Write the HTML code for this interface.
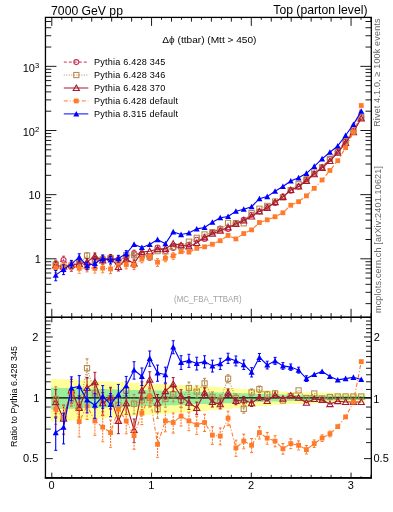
<!DOCTYPE html>
<html><head><meta charset="utf-8"><style>
html,body{margin:0;padding:0;background:#fff;}
body{width:393px;height:512px;position:relative;overflow:hidden;font-family:"Liberation Sans",sans-serif;color:#000;}
svg{position:absolute;left:0;top:0;will-change:transform;}
.t{position:absolute;white-space:nowrap;line-height:1;}
.t sup{font-size:0.72em;vertical-align:0;position:relative;top:-0.45em;}
.r{text-align:right;}
.c{text-align:center;}
.v{transform-origin:0 0;transform:rotate(-90deg);}
</style></head><body>
<svg width="393" height="512" viewBox="0 0 393 512" font-family="Liberation Sans, sans-serif">
<path d="M51.00,379.00 L59.63,379.00 L59.63,379.37 L67.47,379.37 L67.47,379.73 L75.30,379.73 L75.30,380.10 L83.14,380.10 L83.14,380.47 L90.97,380.47 L90.97,380.85 L98.81,380.85 L98.81,381.22 L106.64,381.22 L106.64,381.60 L114.47,381.60 L114.47,381.97 L122.31,381.97 L122.31,382.35 L130.14,382.35 L130.14,382.73 L137.98,382.73 L137.98,383.12 L145.81,383.12 L145.81,383.50 L153.65,383.50 L153.65,383.89 L161.48,383.89 L161.48,384.27 L169.32,384.27 L169.32,384.66 L177.15,384.66 L177.15,385.05 L184.98,385.05 L184.98,385.45 L192.82,385.45 L192.82,385.84 L200.65,385.84 L200.65,386.31 L208.49,386.31 L208.49,386.82 L216.32,386.82 L216.32,387.34 L224.16,387.34 L224.16,387.87 L231.99,387.87 L231.99,388.39 L239.82,388.39 L239.82,388.92 L247.66,388.92 L247.66,389.45 L255.49,389.45 L255.49,389.99 L263.33,389.99 L263.33,390.53 L271.16,390.53 L271.16,391.07 L279.00,391.07 L279.00,391.62 L286.83,391.62 L286.83,391.91 L294.66,391.91 L294.66,392.10 L302.50,392.10 L302.50,392.29 L310.33,392.29 L310.33,392.47 L318.17,392.47 L318.17,392.66 L326.00,392.66 L326.00,392.85 L333.84,392.85 L333.84,393.04 L341.67,393.04 L341.67,393.22 L349.51,393.22 L349.51,393.41 L357.34,393.41 L357.34,393.60 L365.17,393.60 L365.17,402.21 L357.34,402.21 L357.34,402.42 L349.51,402.42 L349.51,402.63 L341.67,402.63 L341.67,402.84 L333.84,402.84 L333.84,403.05 L326.00,403.05 L326.00,403.26 L318.17,403.26 L318.17,403.47 L310.33,403.47 L310.33,403.68 L302.50,403.68 L302.50,403.90 L294.66,403.90 L294.66,404.11 L286.83,404.11 L286.83,404.45 L279.00,404.45 L279.00,405.09 L271.16,405.09 L271.16,405.73 L263.33,405.73 L263.33,406.37 L255.49,406.37 L255.49,407.02 L247.66,407.02 L247.66,407.68 L239.82,407.68 L239.82,408.34 L231.99,408.34 L231.99,409.00 L224.16,409.00 L224.16,409.67 L216.32,409.67 L216.32,410.35 L208.49,410.35 L208.49,411.03 L200.65,411.03 L200.65,411.65 L192.82,411.65 L192.82,412.18 L184.98,412.18 L184.98,412.72 L177.15,412.72 L177.15,413.26 L169.32,413.26 L169.32,413.80 L161.48,413.80 L161.48,414.35 L153.65,414.35 L153.65,414.89 L145.81,414.89 L145.81,415.45 L137.98,415.45 L137.98,416.00 L130.14,416.00 L130.14,416.56 L122.31,416.56 L122.31,417.12 L114.47,417.12 L114.47,417.69 L106.64,417.69 L106.64,418.26 L98.81,418.26 L98.81,418.83 L90.97,418.83 L90.97,419.41 L83.14,419.41 L83.14,419.99 L75.30,419.99 L75.30,420.58 L67.47,420.58 L67.47,421.17 L59.63,421.17 L59.63,421.76 L51.00,421.76 Z" fill="#ffff99"/>
<path d="M51.00,387.70 L59.63,387.70 L59.63,387.92 L67.47,387.92 L67.47,388.14 L75.30,388.14 L75.30,388.35 L83.14,388.35 L83.14,388.57 L90.97,388.57 L90.97,388.79 L98.81,388.79 L98.81,389.01 L106.64,389.01 L106.64,389.23 L114.47,389.23 L114.47,389.45 L122.31,389.45 L122.31,389.67 L130.14,389.67 L130.14,389.90 L137.98,389.90 L137.98,390.12 L145.81,390.12 L145.81,390.34 L153.65,390.34 L153.65,390.57 L161.48,390.57 L161.48,390.79 L169.32,390.79 L169.32,391.01 L177.15,391.01 L177.15,391.24 L184.98,391.24 L184.98,391.47 L192.82,391.47 L192.82,391.69 L200.65,391.69 L200.65,391.94 L208.49,391.94 L208.49,392.20 L216.32,392.20 L216.32,392.47 L224.16,392.47 L224.16,392.73 L231.99,392.73 L231.99,393.00 L239.82,393.00 L239.82,393.27 L247.66,393.27 L247.66,393.54 L255.49,393.54 L255.49,393.80 L263.33,393.80 L263.33,394.07 L271.16,394.07 L271.16,394.34 L279.00,394.34 L279.00,394.62 L286.83,394.62 L286.83,394.77 L294.66,394.77 L294.66,394.88 L302.50,394.88 L302.50,394.98 L310.33,394.98 L310.33,395.09 L318.17,395.09 L318.17,395.19 L326.00,395.19 L326.00,395.30 L333.84,395.30 L333.84,395.40 L341.67,395.40 L341.67,395.51 L349.51,395.51 L349.51,395.61 L357.34,395.61 L357.34,395.72 L365.17,395.72 L365.17,399.93 L357.34,399.93 L357.34,400.04 L349.51,400.04 L349.51,400.15 L341.67,400.15 L341.67,400.27 L333.84,400.27 L333.84,400.38 L326.00,400.38 L326.00,400.49 L318.17,400.49 L318.17,400.60 L310.33,400.60 L310.33,400.71 L302.50,400.71 L302.50,400.83 L294.66,400.83 L294.66,400.94 L286.83,400.94 L286.83,401.10 L279.00,401.10 L279.00,401.40 L271.16,401.40 L271.16,401.69 L263.33,401.69 L263.33,401.99 L255.49,401.99 L255.49,402.28 L247.66,402.28 L247.66,402.58 L239.82,402.58 L239.82,402.88 L231.99,402.88 L231.99,403.18 L224.16,403.18 L224.16,403.48 L216.32,403.48 L216.32,403.78 L208.49,403.78 L208.49,404.08 L200.65,404.08 L200.65,404.37 L192.82,404.37 L192.82,404.63 L184.98,404.63 L184.98,404.89 L177.15,404.89 L177.15,405.16 L169.32,405.16 L169.32,405.42 L161.48,405.42 L161.48,405.69 L153.65,405.69 L153.65,405.95 L145.81,405.95 L145.81,406.22 L137.98,406.22 L137.98,406.49 L130.14,406.49 L130.14,406.76 L122.31,406.76 L122.31,407.03 L114.47,407.03 L114.47,407.30 L106.64,407.30 L106.64,407.57 L98.81,407.57 L98.81,407.84 L90.97,407.84 L90.97,408.11 L83.14,408.11 L83.14,408.39 L75.30,408.39 L75.30,408.66 L67.47,408.66 L67.47,408.94 L59.63,408.94 L59.63,409.21 L51.00,409.21 Z" fill="#99ee99"/>
<line x1="45.45" y1="397.8" x2="371.3" y2="397.8" stroke="#000" stroke-width="1.3"/>
<path d="M55.72,399.20 L63.55,418.90 L71.39,393.00 L79.22,407.40 L87.05,368.10 L94.89,393.40 L102.72,400.00 L110.56,398.00 L118.39,405.00 L126.23,390.40 L134.06,403.70 L141.89,400.00 L149.73,398.00 L157.56,409.10 L165.40,399.00 L173.23,394.40 L181.07,400.00 L188.90,388.00 L196.74,391.60 L204.57,383.40 L212.40,397.00 L220.24,400.00 L228.07,378.70 L235.91,398.00 L243.74,408.90 L251.58,392.40 L259.41,389.20 L267.24,394.40 L275.08,393.40 L282.91,400.50 L290.75,396.00 L298.58,390.40 L306.42,398.00 L314.25,393.50 L322.08,398.50 L329.92,397.00 L337.75,396.50 L345.59,396.50 L353.42,396.50 L361.26,396.50" fill="none" stroke="#b48a4c" stroke-width="1.1" stroke-dasharray="1,1.5"/>
<line x1="55.72" y1="386.84" x2="55.72" y2="413.59" stroke="#b48a4c" stroke-width="1.1" stroke-dasharray="2,1"/><line x1="54.22" y1="386.84" x2="57.22" y2="386.84" stroke="#b48a4c" stroke-width="1.0"/><line x1="54.22" y1="413.59" x2="57.22" y2="413.59" stroke="#b48a4c" stroke-width="1.0"/>
<rect x="53.12" y="396.60" width="5.20" height="5.20" fill="none" stroke="#b48a4c" stroke-width="1.05"/>
<line x1="63.55" y1="405.58" x2="63.55" y2="434.62" stroke="#b48a4c" stroke-width="1.1" stroke-dasharray="2,1"/><line x1="62.05" y1="405.58" x2="65.05" y2="405.58" stroke="#b48a4c" stroke-width="1.0"/><line x1="62.05" y1="434.62" x2="65.05" y2="434.62" stroke="#b48a4c" stroke-width="1.0"/>
<rect x="60.95" y="416.30" width="5.20" height="5.20" fill="none" stroke="#b48a4c" stroke-width="1.05"/>
<line x1="71.39" y1="381.73" x2="71.39" y2="405.93" stroke="#b48a4c" stroke-width="1.1" stroke-dasharray="2,1"/><line x1="69.89" y1="381.73" x2="72.89" y2="381.73" stroke="#b48a4c" stroke-width="1.0"/><line x1="69.89" y1="405.93" x2="72.89" y2="405.93" stroke="#b48a4c" stroke-width="1.0"/>
<rect x="68.79" y="390.40" width="5.20" height="5.20" fill="none" stroke="#b48a4c" stroke-width="1.05"/>
<line x1="79.22" y1="395.60" x2="79.22" y2="421.04" stroke="#b48a4c" stroke-width="1.1" stroke-dasharray="2,1"/><line x1="77.72" y1="395.60" x2="80.72" y2="395.60" stroke="#b48a4c" stroke-width="1.0"/><line x1="77.72" y1="421.04" x2="80.72" y2="421.04" stroke="#b48a4c" stroke-width="1.0"/>
<rect x="76.62" y="404.80" width="5.20" height="5.20" fill="none" stroke="#b48a4c" stroke-width="1.05"/>
<line x1="87.05" y1="358.84" x2="87.05" y2="378.46" stroke="#b48a4c" stroke-width="1.1" stroke-dasharray="2,1"/><line x1="85.55" y1="358.84" x2="88.55" y2="358.84" stroke="#b48a4c" stroke-width="1.0"/><line x1="85.55" y1="378.46" x2="88.55" y2="378.46" stroke="#b48a4c" stroke-width="1.0"/>
<rect x="84.45" y="365.50" width="5.20" height="5.20" fill="none" stroke="#b48a4c" stroke-width="1.05"/>
<line x1="94.89" y1="383.12" x2="94.89" y2="405.05" stroke="#b48a4c" stroke-width="1.1" stroke-dasharray="2,1"/><line x1="93.39" y1="383.12" x2="96.39" y2="383.12" stroke="#b48a4c" stroke-width="1.0"/><line x1="93.39" y1="405.05" x2="96.39" y2="405.05" stroke="#b48a4c" stroke-width="1.0"/>
<rect x="92.29" y="390.80" width="5.20" height="5.20" fill="none" stroke="#b48a4c" stroke-width="1.05"/>
<line x1="102.72" y1="389.69" x2="102.72" y2="411.68" stroke="#b48a4c" stroke-width="1.1" stroke-dasharray="2,1"/><line x1="101.22" y1="389.69" x2="104.22" y2="389.69" stroke="#b48a4c" stroke-width="1.0"/><line x1="101.22" y1="411.68" x2="104.22" y2="411.68" stroke="#b48a4c" stroke-width="1.0"/>
<rect x="100.12" y="397.40" width="5.20" height="5.20" fill="none" stroke="#b48a4c" stroke-width="1.05"/>
<line x1="110.56" y1="388.14" x2="110.56" y2="409.11" stroke="#b48a4c" stroke-width="1.1" stroke-dasharray="2,1"/><line x1="109.06" y1="388.14" x2="112.06" y2="388.14" stroke="#b48a4c" stroke-width="1.0"/><line x1="109.06" y1="409.11" x2="112.06" y2="409.11" stroke="#b48a4c" stroke-width="1.0"/>
<rect x="107.96" y="395.40" width="5.20" height="5.20" fill="none" stroke="#b48a4c" stroke-width="1.05"/>
<line x1="118.39" y1="395.10" x2="118.39" y2="416.15" stroke="#b48a4c" stroke-width="1.1" stroke-dasharray="2,1"/><line x1="116.89" y1="395.10" x2="119.89" y2="395.10" stroke="#b48a4c" stroke-width="1.0"/><line x1="116.89" y1="416.15" x2="119.89" y2="416.15" stroke="#b48a4c" stroke-width="1.0"/>
<rect x="115.79" y="402.40" width="5.20" height="5.20" fill="none" stroke="#b48a4c" stroke-width="1.05"/>
<line x1="126.23" y1="381.57" x2="126.23" y2="400.22" stroke="#b48a4c" stroke-width="1.1" stroke-dasharray="2,1"/><line x1="124.73" y1="381.57" x2="127.73" y2="381.57" stroke="#b48a4c" stroke-width="1.0"/><line x1="124.73" y1="400.22" x2="127.73" y2="400.22" stroke="#b48a4c" stroke-width="1.0"/>
<rect x="123.63" y="387.80" width="5.20" height="5.20" fill="none" stroke="#b48a4c" stroke-width="1.05"/>
<line x1="134.06" y1="394.55" x2="134.06" y2="413.92" stroke="#b48a4c" stroke-width="1.1" stroke-dasharray="2,1"/><line x1="132.56" y1="394.55" x2="135.56" y2="394.55" stroke="#b48a4c" stroke-width="1.0"/><line x1="132.56" y1="413.92" x2="135.56" y2="413.92" stroke="#b48a4c" stroke-width="1.0"/>
<rect x="131.46" y="401.10" width="5.20" height="5.20" fill="none" stroke="#b48a4c" stroke-width="1.05"/>
<line x1="141.89" y1="391.36" x2="141.89" y2="409.59" stroke="#b48a4c" stroke-width="1.1" stroke-dasharray="2,1"/><line x1="140.39" y1="391.36" x2="143.39" y2="391.36" stroke="#b48a4c" stroke-width="1.0"/><line x1="140.39" y1="409.59" x2="143.39" y2="409.59" stroke="#b48a4c" stroke-width="1.0"/>
<rect x="139.29" y="397.40" width="5.20" height="5.20" fill="none" stroke="#b48a4c" stroke-width="1.05"/>
<line x1="149.73" y1="389.77" x2="149.73" y2="407.08" stroke="#b48a4c" stroke-width="1.1" stroke-dasharray="2,1"/><line x1="148.23" y1="389.77" x2="151.23" y2="389.77" stroke="#b48a4c" stroke-width="1.0"/><line x1="148.23" y1="407.08" x2="151.23" y2="407.08" stroke="#b48a4c" stroke-width="1.0"/>
<rect x="147.13" y="395.40" width="5.20" height="5.20" fill="none" stroke="#b48a4c" stroke-width="1.05"/>
<line x1="157.56" y1="400.80" x2="157.56" y2="418.27" stroke="#b48a4c" stroke-width="1.1" stroke-dasharray="2,1"/><line x1="156.06" y1="400.80" x2="159.06" y2="400.80" stroke="#b48a4c" stroke-width="1.0"/><line x1="156.06" y1="418.27" x2="159.06" y2="418.27" stroke="#b48a4c" stroke-width="1.0"/>
<rect x="154.96" y="406.50" width="5.20" height="5.20" fill="none" stroke="#b48a4c" stroke-width="1.05"/>
<line x1="165.40" y1="391.55" x2="165.40" y2="407.14" stroke="#b48a4c" stroke-width="1.1" stroke-dasharray="2,1"/><line x1="163.90" y1="391.55" x2="166.90" y2="391.55" stroke="#b48a4c" stroke-width="1.0"/><line x1="163.90" y1="407.14" x2="166.90" y2="407.14" stroke="#b48a4c" stroke-width="1.0"/>
<rect x="162.80" y="396.40" width="5.20" height="5.20" fill="none" stroke="#b48a4c" stroke-width="1.05"/>
<line x1="173.23" y1="387.53" x2="173.23" y2="401.86" stroke="#b48a4c" stroke-width="1.1" stroke-dasharray="2,1"/><line x1="171.73" y1="387.53" x2="174.73" y2="387.53" stroke="#b48a4c" stroke-width="1.0"/><line x1="171.73" y1="401.86" x2="174.73" y2="401.86" stroke="#b48a4c" stroke-width="1.0"/>
<rect x="170.63" y="391.80" width="5.20" height="5.20" fill="none" stroke="#b48a4c" stroke-width="1.05"/>
<line x1="181.07" y1="393.30" x2="181.07" y2="407.25" stroke="#b48a4c" stroke-width="1.1" stroke-dasharray="2,1"/><line x1="179.57" y1="393.30" x2="182.57" y2="393.30" stroke="#b48a4c" stroke-width="1.0"/><line x1="179.57" y1="407.25" x2="182.57" y2="407.25" stroke="#b48a4c" stroke-width="1.0"/>
<rect x="178.47" y="397.40" width="5.20" height="5.20" fill="none" stroke="#b48a4c" stroke-width="1.05"/>
<line x1="188.90" y1="382.09" x2="188.90" y2="394.34" stroke="#b48a4c" stroke-width="1.1" stroke-dasharray="2,1"/><line x1="187.40" y1="382.09" x2="190.40" y2="382.09" stroke="#b48a4c" stroke-width="1.0"/><line x1="187.40" y1="394.34" x2="190.40" y2="394.34" stroke="#b48a4c" stroke-width="1.0"/>
<rect x="186.30" y="385.40" width="5.20" height="5.20" fill="none" stroke="#b48a4c" stroke-width="1.05"/>
<line x1="196.74" y1="385.93" x2="196.74" y2="397.66" stroke="#b48a4c" stroke-width="1.1" stroke-dasharray="2,1"/><line x1="195.24" y1="385.93" x2="198.24" y2="385.93" stroke="#b48a4c" stroke-width="1.0"/><line x1="195.24" y1="397.66" x2="198.24" y2="397.66" stroke="#b48a4c" stroke-width="1.0"/>
<rect x="194.14" y="389.00" width="5.20" height="5.20" fill="none" stroke="#b48a4c" stroke-width="1.05"/>
<line x1="204.57" y1="378.33" x2="204.57" y2="388.78" stroke="#b48a4c" stroke-width="1.1" stroke-dasharray="2,1"/><line x1="203.07" y1="378.33" x2="206.07" y2="378.33" stroke="#b48a4c" stroke-width="1.0"/><line x1="203.07" y1="388.78" x2="206.07" y2="388.78" stroke="#b48a4c" stroke-width="1.0"/>
<rect x="201.97" y="380.80" width="5.20" height="5.20" fill="none" stroke="#b48a4c" stroke-width="1.05"/>
<line x1="212.40" y1="391.92" x2="212.40" y2="402.40" stroke="#b48a4c" stroke-width="1.1" stroke-dasharray="2,1"/><line x1="210.90" y1="391.92" x2="213.90" y2="391.92" stroke="#b48a4c" stroke-width="1.0"/><line x1="210.90" y1="402.40" x2="213.90" y2="402.40" stroke="#b48a4c" stroke-width="1.0"/>
<rect x="209.80" y="394.40" width="5.20" height="5.20" fill="none" stroke="#b48a4c" stroke-width="1.05"/>
<line x1="220.24" y1="395.20" x2="220.24" y2="405.07" stroke="#b48a4c" stroke-width="1.1" stroke-dasharray="2,1"/><line x1="218.74" y1="395.20" x2="221.74" y2="395.20" stroke="#b48a4c" stroke-width="1.0"/><line x1="218.74" y1="405.07" x2="221.74" y2="405.07" stroke="#b48a4c" stroke-width="1.0"/>
<rect x="217.64" y="397.40" width="5.20" height="5.20" fill="none" stroke="#b48a4c" stroke-width="1.05"/>
<line x1="228.07" y1="374.76" x2="228.07" y2="382.82" stroke="#b48a4c" stroke-width="1.1" stroke-dasharray="2,1"/><line x1="226.57" y1="374.76" x2="229.57" y2="374.76" stroke="#b48a4c" stroke-width="1.0"/><line x1="226.57" y1="382.82" x2="229.57" y2="382.82" stroke="#b48a4c" stroke-width="1.0"/>
<rect x="225.47" y="376.10" width="5.20" height="5.20" fill="none" stroke="#b48a4c" stroke-width="1.05"/>
<line x1="235.91" y1="393.88" x2="235.91" y2="402.32" stroke="#b48a4c" stroke-width="1.1" stroke-dasharray="2,1"/><line x1="234.41" y1="393.88" x2="237.41" y2="393.88" stroke="#b48a4c" stroke-width="1.0"/><line x1="234.41" y1="402.32" x2="237.41" y2="402.32" stroke="#b48a4c" stroke-width="1.0"/>
<rect x="233.31" y="395.40" width="5.20" height="5.20" fill="none" stroke="#b48a4c" stroke-width="1.05"/>
<line x1="243.74" y1="404.80" x2="243.74" y2="413.20" stroke="#b48a4c" stroke-width="1.1" stroke-dasharray="2,1"/><line x1="242.24" y1="404.80" x2="245.24" y2="404.80" stroke="#b48a4c" stroke-width="1.0"/><line x1="242.24" y1="413.20" x2="245.24" y2="413.20" stroke="#b48a4c" stroke-width="1.0"/>
<rect x="241.14" y="406.30" width="5.20" height="5.20" fill="none" stroke="#b48a4c" stroke-width="1.05"/>
<line x1="251.58" y1="388.91" x2="251.58" y2="396.03" stroke="#b48a4c" stroke-width="1.1" stroke-dasharray="2,1"/><line x1="250.08" y1="388.91" x2="253.08" y2="388.91" stroke="#b48a4c" stroke-width="1.0"/><line x1="250.08" y1="396.03" x2="253.08" y2="396.03" stroke="#b48a4c" stroke-width="1.0"/>
<rect x="248.98" y="389.80" width="5.20" height="5.20" fill="none" stroke="#b48a4c" stroke-width="1.05"/>
<line x1="259.41" y1="386.02" x2="259.41" y2="392.50" stroke="#b48a4c" stroke-width="1.1" stroke-dasharray="2,1"/><line x1="257.91" y1="386.02" x2="260.91" y2="386.02" stroke="#b48a4c" stroke-width="1.0"/><line x1="257.91" y1="392.50" x2="260.91" y2="392.50" stroke="#b48a4c" stroke-width="1.0"/>
<rect x="256.81" y="386.60" width="5.20" height="5.20" fill="none" stroke="#b48a4c" stroke-width="1.05"/>
<line x1="267.24" y1="391.37" x2="267.24" y2="397.53" stroke="#b48a4c" stroke-width="1.1" stroke-dasharray="2,1"/><line x1="265.74" y1="391.37" x2="268.74" y2="391.37" stroke="#b48a4c" stroke-width="1.0"/><line x1="265.74" y1="397.53" x2="268.74" y2="397.53" stroke="#b48a4c" stroke-width="1.0"/>
<rect x="264.64" y="391.80" width="5.20" height="5.20" fill="none" stroke="#b48a4c" stroke-width="1.05"/>
<line x1="275.08" y1="390.63" x2="275.08" y2="396.26" stroke="#b48a4c" stroke-width="1.1" stroke-dasharray="2,1"/><line x1="273.58" y1="390.63" x2="276.58" y2="390.63" stroke="#b48a4c" stroke-width="1.0"/><line x1="273.58" y1="396.26" x2="276.58" y2="396.26" stroke="#b48a4c" stroke-width="1.0"/>
<rect x="272.48" y="390.80" width="5.20" height="5.20" fill="none" stroke="#b48a4c" stroke-width="1.05"/>
<rect x="280.31" y="397.90" width="5.20" height="5.20" fill="none" stroke="#b48a4c" stroke-width="1.05"/>
<rect x="288.15" y="393.40" width="5.20" height="5.20" fill="none" stroke="#b48a4c" stroke-width="1.05"/>
<rect x="295.98" y="387.80" width="5.20" height="5.20" fill="none" stroke="#b48a4c" stroke-width="1.05"/>
<rect x="303.82" y="395.40" width="5.20" height="5.20" fill="none" stroke="#b48a4c" stroke-width="1.05"/>
<rect x="311.65" y="390.90" width="5.20" height="5.20" fill="none" stroke="#b48a4c" stroke-width="1.05"/>
<rect x="319.48" y="395.90" width="5.20" height="5.20" fill="none" stroke="#b48a4c" stroke-width="1.05"/>
<rect x="327.32" y="394.40" width="5.20" height="5.20" fill="none" stroke="#b48a4c" stroke-width="1.05"/>
<rect x="335.15" y="393.90" width="5.20" height="5.20" fill="none" stroke="#b48a4c" stroke-width="1.05"/>
<rect x="342.99" y="393.90" width="5.20" height="5.20" fill="none" stroke="#b48a4c" stroke-width="1.05"/>
<rect x="350.82" y="393.90" width="5.20" height="5.20" fill="none" stroke="#b48a4c" stroke-width="1.05"/>
<rect x="358.66" y="393.90" width="5.20" height="5.20" fill="none" stroke="#b48a4c" stroke-width="1.05"/>
<path d="M55.72,402.10 L63.55,418.50 L71.39,390.40 L79.22,408.00 L87.05,388.00 L94.89,382.20 L102.72,403.30 L110.56,397.40 L118.39,420.90 L126.23,403.30 L134.06,430.00 L141.89,390.40 L149.73,379.60 L157.56,402.80 L165.40,391.10 L173.23,384.10 L181.07,396.20 L188.90,402.80 L196.74,408.00 L204.57,392.70 L212.40,402.00 L220.24,404.30 L228.07,392.60 L235.91,401.00 L243.74,399.80 L251.58,403.20 L259.41,397.50 L267.24,401.00 L275.08,395.20 L282.91,398.60 L290.75,395.60 L298.58,397.70 L306.42,402.80 L314.25,399.00 L322.08,399.90 L329.92,404.10 L337.75,401.10 L345.59,402.00 L353.42,402.00 L361.26,402.00" fill="none" stroke="#a81830" stroke-width="1.1"/>
<line x1="55.72" y1="389.55" x2="55.72" y2="416.75" stroke="#a81830" stroke-width="1.1"/><line x1="54.22" y1="389.55" x2="57.22" y2="389.55" stroke="#a81830" stroke-width="1.0"/><line x1="54.22" y1="416.75" x2="57.22" y2="416.75" stroke="#a81830" stroke-width="1.0"/>
<path d="M55.72,399.10 L58.82,404.60 L52.62,404.60 Z" fill="none" stroke="#a81830" stroke-width="1.1"/>
<line x1="63.55" y1="405.15" x2="63.55" y2="434.25" stroke="#a81830" stroke-width="1.1"/><line x1="62.05" y1="405.15" x2="65.05" y2="405.15" stroke="#a81830" stroke-width="1.0"/><line x1="62.05" y1="434.25" x2="65.05" y2="434.25" stroke="#a81830" stroke-width="1.0"/>
<path d="M63.55,415.50 L66.65,421.00 L60.45,421.00 Z" fill="none" stroke="#a81830" stroke-width="1.1"/>
<line x1="71.39" y1="379.20" x2="71.39" y2="403.24" stroke="#a81830" stroke-width="1.1"/><line x1="69.89" y1="379.20" x2="72.89" y2="379.20" stroke="#a81830" stroke-width="1.0"/><line x1="69.89" y1="403.24" x2="72.89" y2="403.24" stroke="#a81830" stroke-width="1.0"/>
<path d="M71.39,387.40 L74.49,392.90 L68.29,392.90 Z" fill="none" stroke="#a81830" stroke-width="1.1"/>
<line x1="79.22" y1="396.02" x2="79.22" y2="421.88" stroke="#a81830" stroke-width="1.1"/><line x1="77.72" y1="396.02" x2="80.72" y2="396.02" stroke="#a81830" stroke-width="1.0"/><line x1="77.72" y1="421.88" x2="80.72" y2="421.88" stroke="#a81830" stroke-width="1.0"/>
<path d="M79.22,405.00 L82.32,410.50 L76.12,410.50 Z" fill="none" stroke="#a81830" stroke-width="1.1"/>
<line x1="87.05" y1="377.52" x2="87.05" y2="399.90" stroke="#a81830" stroke-width="1.1"/><line x1="85.55" y1="377.52" x2="88.55" y2="377.52" stroke="#a81830" stroke-width="1.0"/><line x1="85.55" y1="399.90" x2="88.55" y2="399.90" stroke="#a81830" stroke-width="1.0"/>
<path d="M87.05,385.00 L90.15,390.50 L83.95,390.50 Z" fill="none" stroke="#a81830" stroke-width="1.1"/>
<line x1="94.89" y1="372.32" x2="94.89" y2="393.33" stroke="#a81830" stroke-width="1.1"/><line x1="93.39" y1="372.32" x2="96.39" y2="372.32" stroke="#a81830" stroke-width="1.0"/><line x1="93.39" y1="393.33" x2="96.39" y2="393.33" stroke="#a81830" stroke-width="1.0"/>
<path d="M94.89,379.20 L97.99,384.70 L91.79,384.70 Z" fill="none" stroke="#a81830" stroke-width="1.1"/>
<line x1="102.72" y1="392.55" x2="102.72" y2="415.56" stroke="#a81830" stroke-width="1.1"/><line x1="101.22" y1="392.55" x2="104.22" y2="392.55" stroke="#a81830" stroke-width="1.0"/><line x1="101.22" y1="415.56" x2="104.22" y2="415.56" stroke="#a81830" stroke-width="1.0"/>
<path d="M102.72,400.30 L105.82,405.80 L99.62,405.80 Z" fill="none" stroke="#a81830" stroke-width="1.1"/>
<line x1="110.56" y1="387.28" x2="110.56" y2="408.84" stroke="#a81830" stroke-width="1.1"/><line x1="109.06" y1="387.28" x2="112.06" y2="387.28" stroke="#a81830" stroke-width="1.0"/><line x1="109.06" y1="408.84" x2="112.06" y2="408.84" stroke="#a81830" stroke-width="1.0"/>
<path d="M110.56,394.40 L113.66,399.90 L107.46,399.90 Z" fill="none" stroke="#a81830" stroke-width="1.1"/>
<line x1="118.39" y1="409.76" x2="118.39" y2="433.66" stroke="#a81830" stroke-width="1.1"/><line x1="116.89" y1="409.76" x2="119.89" y2="409.76" stroke="#a81830" stroke-width="1.0"/><line x1="116.89" y1="433.66" x2="119.89" y2="433.66" stroke="#a81830" stroke-width="1.0"/>
<path d="M118.39,417.90 L121.49,423.40 L115.29,423.40 Z" fill="none" stroke="#a81830" stroke-width="1.1"/>
<line x1="126.23" y1="393.47" x2="126.23" y2="414.37" stroke="#a81830" stroke-width="1.1"/><line x1="124.73" y1="393.47" x2="127.73" y2="393.47" stroke="#a81830" stroke-width="1.0"/><line x1="124.73" y1="414.37" x2="127.73" y2="414.37" stroke="#a81830" stroke-width="1.0"/>
<path d="M126.23,400.30 L129.33,405.80 L123.13,405.80 Z" fill="none" stroke="#a81830" stroke-width="1.1"/>
<line x1="134.06" y1="419.01" x2="134.06" y2="442.57" stroke="#a81830" stroke-width="1.1"/><line x1="132.56" y1="419.01" x2="135.56" y2="419.01" stroke="#a81830" stroke-width="1.0"/><line x1="132.56" y1="442.57" x2="135.56" y2="442.57" stroke="#a81830" stroke-width="1.0"/>
<path d="M134.06,427.00 L137.16,432.50 L130.96,432.50 Z" fill="none" stroke="#a81830" stroke-width="1.1"/>
<line x1="141.89" y1="381.80" x2="141.89" y2="399.93" stroke="#a81830" stroke-width="1.1"/><line x1="140.39" y1="381.80" x2="143.39" y2="381.80" stroke="#a81830" stroke-width="1.0"/><line x1="140.39" y1="399.93" x2="143.39" y2="399.93" stroke="#a81830" stroke-width="1.0"/>
<path d="M141.89,387.40 L144.99,392.90 L138.79,392.90 Z" fill="none" stroke="#a81830" stroke-width="1.1"/>
<line x1="149.73" y1="371.76" x2="149.73" y2="388.21" stroke="#a81830" stroke-width="1.1"/><line x1="148.23" y1="371.76" x2="151.23" y2="371.76" stroke="#a81830" stroke-width="1.0"/><line x1="148.23" y1="388.21" x2="151.23" y2="388.21" stroke="#a81830" stroke-width="1.0"/>
<path d="M149.73,376.60 L152.83,382.10 L146.63,382.10 Z" fill="none" stroke="#a81830" stroke-width="1.1"/>
<line x1="157.56" y1="394.47" x2="157.56" y2="412.00" stroke="#a81830" stroke-width="1.1"/><line x1="156.06" y1="394.47" x2="159.06" y2="394.47" stroke="#a81830" stroke-width="1.0"/><line x1="156.06" y1="412.00" x2="159.06" y2="412.00" stroke="#a81830" stroke-width="1.0"/>
<path d="M157.56,399.80 L160.66,405.30 L154.46,405.30 Z" fill="none" stroke="#a81830" stroke-width="1.1"/>
<line x1="165.40" y1="383.81" x2="165.40" y2="399.05" stroke="#a81830" stroke-width="1.1"/><line x1="163.90" y1="383.81" x2="166.90" y2="383.81" stroke="#a81830" stroke-width="1.0"/><line x1="163.90" y1="399.05" x2="166.90" y2="399.05" stroke="#a81830" stroke-width="1.0"/>
<path d="M165.40,388.10 L168.50,393.60 L162.30,393.60 Z" fill="none" stroke="#a81830" stroke-width="1.1"/>
<line x1="173.23" y1="377.57" x2="173.23" y2="391.16" stroke="#a81830" stroke-width="1.1"/><line x1="171.73" y1="377.57" x2="174.73" y2="377.57" stroke="#a81830" stroke-width="1.0"/><line x1="171.73" y1="391.16" x2="174.73" y2="391.16" stroke="#a81830" stroke-width="1.0"/>
<path d="M173.23,381.10 L176.33,386.60 L170.13,386.60 Z" fill="none" stroke="#a81830" stroke-width="1.1"/>
<line x1="181.07" y1="389.72" x2="181.07" y2="403.20" stroke="#a81830" stroke-width="1.1"/><line x1="179.57" y1="389.72" x2="182.57" y2="389.72" stroke="#a81830" stroke-width="1.0"/><line x1="179.57" y1="403.20" x2="182.57" y2="403.20" stroke="#a81830" stroke-width="1.0"/>
<path d="M181.07,393.20 L184.17,398.70 L177.97,398.70 Z" fill="none" stroke="#a81830" stroke-width="1.1"/>
<line x1="188.90" y1="396.58" x2="188.90" y2="409.49" stroke="#a81830" stroke-width="1.1"/><line x1="187.40" y1="396.58" x2="190.40" y2="396.58" stroke="#a81830" stroke-width="1.0"/><line x1="187.40" y1="409.49" x2="190.40" y2="409.49" stroke="#a81830" stroke-width="1.0"/>
<path d="M188.90,399.80 L192.00,405.30 L185.80,405.30 Z" fill="none" stroke="#a81830" stroke-width="1.1"/>
<line x1="196.74" y1="402.10" x2="196.74" y2="414.33" stroke="#a81830" stroke-width="1.1"/><line x1="195.24" y1="402.10" x2="198.24" y2="402.10" stroke="#a81830" stroke-width="1.0"/><line x1="195.24" y1="414.33" x2="198.24" y2="414.33" stroke="#a81830" stroke-width="1.0"/>
<path d="M196.74,405.00 L199.84,410.50 L193.64,410.50 Z" fill="none" stroke="#a81830" stroke-width="1.1"/>
<line x1="204.57" y1="387.74" x2="204.57" y2="397.96" stroke="#a81830" stroke-width="1.1"/><line x1="203.07" y1="387.74" x2="206.07" y2="387.74" stroke="#a81830" stroke-width="1.0"/><line x1="203.07" y1="397.96" x2="206.07" y2="397.96" stroke="#a81830" stroke-width="1.0"/>
<path d="M204.57,389.70 L207.67,395.20 L201.47,395.20 Z" fill="none" stroke="#a81830" stroke-width="1.1"/>
<line x1="212.40" y1="397.25" x2="212.40" y2="407.02" stroke="#a81830" stroke-width="1.1"/><line x1="210.90" y1="397.25" x2="213.90" y2="397.25" stroke="#a81830" stroke-width="1.0"/><line x1="210.90" y1="407.02" x2="213.90" y2="407.02" stroke="#a81830" stroke-width="1.0"/>
<path d="M212.40,399.00 L215.50,404.50 L209.30,404.50 Z" fill="none" stroke="#a81830" stroke-width="1.1"/>
<line x1="220.24" y1="399.95" x2="220.24" y2="408.87" stroke="#a81830" stroke-width="1.1"/><line x1="218.74" y1="399.95" x2="221.74" y2="399.95" stroke="#a81830" stroke-width="1.0"/><line x1="218.74" y1="408.87" x2="221.74" y2="408.87" stroke="#a81830" stroke-width="1.0"/>
<path d="M220.24,401.30 L223.34,406.80 L217.14,406.80 Z" fill="none" stroke="#a81830" stroke-width="1.1"/>
<line x1="228.07" y1="388.94" x2="228.07" y2="396.42" stroke="#a81830" stroke-width="1.1"/><line x1="226.57" y1="388.94" x2="229.57" y2="388.94" stroke="#a81830" stroke-width="1.0"/><line x1="226.57" y1="396.42" x2="229.57" y2="396.42" stroke="#a81830" stroke-width="1.0"/>
<path d="M228.07,389.60 L231.17,395.10 L224.97,395.10 Z" fill="none" stroke="#a81830" stroke-width="1.1"/>
<line x1="235.91" y1="397.40" x2="235.91" y2="404.75" stroke="#a81830" stroke-width="1.1"/><line x1="234.41" y1="397.40" x2="237.41" y2="397.40" stroke="#a81830" stroke-width="1.0"/><line x1="234.41" y1="404.75" x2="237.41" y2="404.75" stroke="#a81830" stroke-width="1.0"/>
<path d="M235.91,398.00 L239.01,403.50 L232.81,403.50 Z" fill="none" stroke="#a81830" stroke-width="1.1"/>
<line x1="243.74" y1="396.46" x2="243.74" y2="403.27" stroke="#a81830" stroke-width="1.1"/><line x1="242.24" y1="396.46" x2="245.24" y2="396.46" stroke="#a81830" stroke-width="1.0"/><line x1="242.24" y1="403.27" x2="245.24" y2="403.27" stroke="#a81830" stroke-width="1.0"/>
<path d="M243.74,396.80 L246.84,402.30 L240.64,402.30 Z" fill="none" stroke="#a81830" stroke-width="1.1"/>
<line x1="251.58" y1="400.03" x2="251.58" y2="406.49" stroke="#a81830" stroke-width="1.1"/><line x1="250.08" y1="400.03" x2="253.08" y2="400.03" stroke="#a81830" stroke-width="1.0"/><line x1="250.08" y1="406.49" x2="253.08" y2="406.49" stroke="#a81830" stroke-width="1.0"/>
<path d="M251.58,400.20 L254.68,405.70 L248.48,405.70 Z" fill="none" stroke="#a81830" stroke-width="1.1"/>
<line x1="259.41" y1="394.65" x2="259.41" y2="400.44" stroke="#a81830" stroke-width="1.1"/><line x1="257.91" y1="394.65" x2="260.91" y2="394.65" stroke="#a81830" stroke-width="1.0"/><line x1="257.91" y1="400.44" x2="260.91" y2="400.44" stroke="#a81830" stroke-width="1.0"/>
<path d="M259.41,394.50 L262.51,400.00 L256.31,400.00 Z" fill="none" stroke="#a81830" stroke-width="1.1"/>
<path d="M267.24,398.00 L270.34,403.50 L264.14,403.50 Z" fill="none" stroke="#a81830" stroke-width="1.1"/>
<path d="M275.08,392.20 L278.18,397.70 L271.98,397.70 Z" fill="none" stroke="#a81830" stroke-width="1.1"/>
<path d="M282.91,395.60 L286.01,401.10 L279.81,401.10 Z" fill="none" stroke="#a81830" stroke-width="1.1"/>
<path d="M290.75,392.60 L293.85,398.10 L287.65,398.10 Z" fill="none" stroke="#a81830" stroke-width="1.1"/>
<path d="M298.58,394.70 L301.68,400.20 L295.48,400.20 Z" fill="none" stroke="#a81830" stroke-width="1.1"/>
<path d="M306.42,399.80 L309.52,405.30 L303.32,405.30 Z" fill="none" stroke="#a81830" stroke-width="1.1"/>
<path d="M314.25,396.00 L317.35,401.50 L311.15,401.50 Z" fill="none" stroke="#a81830" stroke-width="1.1"/>
<path d="M322.08,396.90 L325.18,402.40 L318.98,402.40 Z" fill="none" stroke="#a81830" stroke-width="1.1"/>
<path d="M329.92,401.10 L333.02,406.60 L326.82,406.60 Z" fill="none" stroke="#a81830" stroke-width="1.1"/>
<path d="M337.75,398.10 L340.85,403.60 L334.65,403.60 Z" fill="none" stroke="#a81830" stroke-width="1.1"/>
<path d="M345.59,399.00 L348.69,404.50 L342.49,404.50 Z" fill="none" stroke="#a81830" stroke-width="1.1"/>
<path d="M353.42,399.00 L356.52,404.50 L350.32,404.50 Z" fill="none" stroke="#a81830" stroke-width="1.1"/>
<path d="M361.26,399.00 L364.36,404.50 L358.16,404.50 Z" fill="none" stroke="#a81830" stroke-width="1.1"/>
<path d="M55.72,409.10 L63.55,418.50 L71.39,393.00 L79.22,421.60 L87.05,406.00 L94.89,420.90 L102.72,427.20 L110.56,432.60 L118.39,409.10 L126.23,420.90 L134.06,435.60 L141.89,413.10 L149.73,395.80 L157.56,444.30 L165.40,420.90 L173.23,422.50 L181.07,416.20 L188.90,420.90 L196.74,424.80 L204.57,422.50 L212.40,435.10 L220.24,436.00 L228.07,418.10 L235.91,447.90 L243.74,441.10 L251.58,445.30 L259.41,432.60 L267.24,438.10 L275.08,441.10 L282.91,448.70 L290.75,443.60 L298.58,445.30 L306.42,449.60 L314.25,443.60 L322.08,438.10 L329.92,433.90 L337.75,426.60 L345.59,416.90 L353.42,402.00 L361.26,361.60" fill="none" stroke="#ff7a2a" stroke-width="1.1" stroke-dasharray="4,2,1,2"/>
<line x1="55.72" y1="396.08" x2="55.72" y2="424.40" stroke="#ff7a2a" stroke-width="1.1" stroke-dasharray="2,1"/><line x1="54.22" y1="396.08" x2="57.22" y2="396.08" stroke="#ff7a2a" stroke-width="1.0"/><line x1="54.22" y1="424.40" x2="57.22" y2="424.40" stroke="#ff7a2a" stroke-width="1.0"/>
<rect x="53.32" y="406.70" width="4.80" height="4.80" fill="#ff7a2a"/>
<line x1="63.55" y1="405.10" x2="63.55" y2="434.32" stroke="#ff7a2a" stroke-width="1.1" stroke-dasharray="2,1"/><line x1="62.05" y1="405.10" x2="65.05" y2="405.10" stroke="#ff7a2a" stroke-width="1.0"/><line x1="62.05" y1="434.32" x2="65.05" y2="434.32" stroke="#ff7a2a" stroke-width="1.0"/>
<rect x="61.15" y="416.10" width="4.80" height="4.80" fill="#ff7a2a"/>
<line x1="71.39" y1="381.55" x2="71.39" y2="406.17" stroke="#ff7a2a" stroke-width="1.1" stroke-dasharray="2,1"/><line x1="69.89" y1="381.55" x2="72.89" y2="381.55" stroke="#ff7a2a" stroke-width="1.0"/><line x1="69.89" y1="406.17" x2="72.89" y2="406.17" stroke="#ff7a2a" stroke-width="1.0"/>
<rect x="68.99" y="390.60" width="4.80" height="4.80" fill="#ff7a2a"/>
<line x1="79.22" y1="408.57" x2="79.22" y2="436.91" stroke="#ff7a2a" stroke-width="1.1" stroke-dasharray="2,1"/><line x1="77.72" y1="408.57" x2="80.72" y2="408.57" stroke="#ff7a2a" stroke-width="1.0"/><line x1="77.72" y1="436.91" x2="80.72" y2="436.91" stroke="#ff7a2a" stroke-width="1.0"/>
<rect x="76.82" y="419.20" width="4.80" height="4.80" fill="#ff7a2a"/>
<line x1="87.05" y1="394.28" x2="87.05" y2="419.53" stroke="#ff7a2a" stroke-width="1.1" stroke-dasharray="2,1"/><line x1="85.55" y1="394.28" x2="88.55" y2="394.28" stroke="#ff7a2a" stroke-width="1.0"/><line x1="85.55" y1="419.53" x2="88.55" y2="419.53" stroke="#ff7a2a" stroke-width="1.0"/>
<rect x="84.65" y="403.60" width="4.80" height="4.80" fill="#ff7a2a"/>
<line x1="94.89" y1="408.51" x2="94.89" y2="435.34" stroke="#ff7a2a" stroke-width="1.1" stroke-dasharray="2,1"/><line x1="93.39" y1="408.51" x2="96.39" y2="408.51" stroke="#ff7a2a" stroke-width="1.0"/><line x1="93.39" y1="435.34" x2="96.39" y2="435.34" stroke="#ff7a2a" stroke-width="1.0"/>
<rect x="92.49" y="418.50" width="4.80" height="4.80" fill="#ff7a2a"/>
<line x1="102.72" y1="414.69" x2="102.72" y2="441.79" stroke="#ff7a2a" stroke-width="1.1" stroke-dasharray="2,1"/><line x1="101.22" y1="414.69" x2="104.22" y2="414.69" stroke="#ff7a2a" stroke-width="1.0"/><line x1="101.22" y1="441.79" x2="104.22" y2="441.79" stroke="#ff7a2a" stroke-width="1.0"/>
<rect x="100.32" y="424.80" width="4.80" height="4.80" fill="#ff7a2a"/>
<line x1="110.56" y1="420.04" x2="110.56" y2="447.26" stroke="#ff7a2a" stroke-width="1.1" stroke-dasharray="2,1"/><line x1="109.06" y1="420.04" x2="112.06" y2="420.04" stroke="#ff7a2a" stroke-width="1.0"/><line x1="109.06" y1="447.26" x2="112.06" y2="447.26" stroke="#ff7a2a" stroke-width="1.0"/>
<rect x="108.16" y="430.20" width="4.80" height="4.80" fill="#ff7a2a"/>
<line x1="118.39" y1="398.30" x2="118.39" y2="421.41" stroke="#ff7a2a" stroke-width="1.1" stroke-dasharray="2,1"/><line x1="116.89" y1="398.30" x2="119.89" y2="398.30" stroke="#ff7a2a" stroke-width="1.0"/><line x1="116.89" y1="421.41" x2="119.89" y2="421.41" stroke="#ff7a2a" stroke-width="1.0"/>
<rect x="115.99" y="406.70" width="4.80" height="4.80" fill="#ff7a2a"/>
<line x1="126.23" y1="409.70" x2="126.23" y2="433.74" stroke="#ff7a2a" stroke-width="1.1" stroke-dasharray="2,1"/><line x1="124.73" y1="409.70" x2="127.73" y2="409.70" stroke="#ff7a2a" stroke-width="1.0"/><line x1="124.73" y1="433.74" x2="127.73" y2="433.74" stroke="#ff7a2a" stroke-width="1.0"/>
<rect x="123.83" y="418.50" width="4.80" height="4.80" fill="#ff7a2a"/>
<line x1="134.06" y1="423.81" x2="134.06" y2="449.22" stroke="#ff7a2a" stroke-width="1.1" stroke-dasharray="2,1"/><line x1="132.56" y1="423.81" x2="135.56" y2="423.81" stroke="#ff7a2a" stroke-width="1.0"/><line x1="132.56" y1="449.22" x2="135.56" y2="449.22" stroke="#ff7a2a" stroke-width="1.0"/>
<rect x="131.66" y="433.20" width="4.80" height="4.80" fill="#ff7a2a"/>
<line x1="141.89" y1="402.94" x2="141.89" y2="424.60" stroke="#ff7a2a" stroke-width="1.1" stroke-dasharray="2,1"/><line x1="140.39" y1="402.94" x2="143.39" y2="402.94" stroke="#ff7a2a" stroke-width="1.0"/><line x1="140.39" y1="424.60" x2="143.39" y2="424.60" stroke="#ff7a2a" stroke-width="1.0"/>
<rect x="139.49" y="410.70" width="4.80" height="4.80" fill="#ff7a2a"/>
<line x1="149.73" y1="386.81" x2="149.73" y2="405.82" stroke="#ff7a2a" stroke-width="1.1" stroke-dasharray="2,1"/><line x1="148.23" y1="386.81" x2="151.23" y2="386.81" stroke="#ff7a2a" stroke-width="1.0"/><line x1="148.23" y1="405.82" x2="151.23" y2="405.82" stroke="#ff7a2a" stroke-width="1.0"/>
<rect x="147.33" y="393.40" width="4.80" height="4.80" fill="#ff7a2a"/>
<line x1="157.56" y1="432.97" x2="157.56" y2="457.31" stroke="#ff7a2a" stroke-width="1.1" stroke-dasharray="2,1"/><line x1="156.06" y1="432.97" x2="159.06" y2="432.97" stroke="#ff7a2a" stroke-width="1.0"/><line x1="156.06" y1="457.31" x2="159.06" y2="457.31" stroke="#ff7a2a" stroke-width="1.0"/>
<rect x="155.16" y="441.90" width="4.80" height="4.80" fill="#ff7a2a"/>
<line x1="165.40" y1="411.21" x2="165.40" y2="431.79" stroke="#ff7a2a" stroke-width="1.1" stroke-dasharray="2,1"/><line x1="163.90" y1="411.21" x2="166.90" y2="411.21" stroke="#ff7a2a" stroke-width="1.0"/><line x1="163.90" y1="431.79" x2="166.90" y2="431.79" stroke="#ff7a2a" stroke-width="1.0"/>
<rect x="163.00" y="418.50" width="4.80" height="4.80" fill="#ff7a2a"/>
<line x1="173.23" y1="413.04" x2="173.23" y2="433.11" stroke="#ff7a2a" stroke-width="1.1" stroke-dasharray="2,1"/><line x1="171.73" y1="413.04" x2="174.73" y2="413.04" stroke="#ff7a2a" stroke-width="1.0"/><line x1="171.73" y1="433.11" x2="174.73" y2="433.11" stroke="#ff7a2a" stroke-width="1.0"/>
<rect x="170.83" y="420.10" width="4.80" height="4.80" fill="#ff7a2a"/>
<line x1="181.07" y1="407.36" x2="181.07" y2="426.04" stroke="#ff7a2a" stroke-width="1.1" stroke-dasharray="2,1"/><line x1="179.57" y1="407.36" x2="182.57" y2="407.36" stroke="#ff7a2a" stroke-width="1.0"/><line x1="179.57" y1="426.04" x2="182.57" y2="426.04" stroke="#ff7a2a" stroke-width="1.0"/>
<rect x="178.67" y="413.80" width="4.80" height="4.80" fill="#ff7a2a"/>
<line x1="188.90" y1="412.14" x2="188.90" y2="430.64" stroke="#ff7a2a" stroke-width="1.1" stroke-dasharray="2,1"/><line x1="187.40" y1="412.14" x2="190.40" y2="412.14" stroke="#ff7a2a" stroke-width="1.0"/><line x1="187.40" y1="430.64" x2="190.40" y2="430.64" stroke="#ff7a2a" stroke-width="1.0"/>
<rect x="186.50" y="418.50" width="4.80" height="4.80" fill="#ff7a2a"/>
<line x1="196.74" y1="416.16" x2="196.74" y2="434.38" stroke="#ff7a2a" stroke-width="1.1" stroke-dasharray="2,1"/><line x1="195.24" y1="416.16" x2="198.24" y2="416.16" stroke="#ff7a2a" stroke-width="1.0"/><line x1="195.24" y1="434.38" x2="198.24" y2="434.38" stroke="#ff7a2a" stroke-width="1.0"/>
<rect x="194.34" y="422.40" width="4.80" height="4.80" fill="#ff7a2a"/>
<line x1="204.57" y1="414.31" x2="204.57" y2="431.53" stroke="#ff7a2a" stroke-width="1.1" stroke-dasharray="2,1"/><line x1="203.07" y1="414.31" x2="206.07" y2="414.31" stroke="#ff7a2a" stroke-width="1.0"/><line x1="203.07" y1="431.53" x2="206.07" y2="431.53" stroke="#ff7a2a" stroke-width="1.0"/>
<rect x="202.17" y="420.10" width="4.80" height="4.80" fill="#ff7a2a"/>
<line x1="212.40" y1="426.72" x2="212.40" y2="444.36" stroke="#ff7a2a" stroke-width="1.1" stroke-dasharray="2,1"/><line x1="210.90" y1="426.72" x2="213.90" y2="426.72" stroke="#ff7a2a" stroke-width="1.0"/><line x1="210.90" y1="444.36" x2="213.90" y2="444.36" stroke="#ff7a2a" stroke-width="1.0"/>
<rect x="210.00" y="432.70" width="4.80" height="4.80" fill="#ff7a2a"/>
<line x1="220.24" y1="427.97" x2="220.24" y2="444.84" stroke="#ff7a2a" stroke-width="1.1" stroke-dasharray="2,1"/><line x1="218.74" y1="427.97" x2="221.74" y2="427.97" stroke="#ff7a2a" stroke-width="1.0"/><line x1="218.74" y1="444.84" x2="221.74" y2="444.84" stroke="#ff7a2a" stroke-width="1.0"/>
<rect x="217.84" y="433.60" width="4.80" height="4.80" fill="#ff7a2a"/>
<line x1="228.07" y1="411.18" x2="228.07" y2="425.61" stroke="#ff7a2a" stroke-width="1.1" stroke-dasharray="2,1"/><line x1="226.57" y1="411.18" x2="229.57" y2="411.18" stroke="#ff7a2a" stroke-width="1.0"/><line x1="226.57" y1="425.61" x2="229.57" y2="425.61" stroke="#ff7a2a" stroke-width="1.0"/>
<rect x="225.67" y="415.70" width="4.80" height="4.80" fill="#ff7a2a"/>
<line x1="235.91" y1="440.18" x2="235.91" y2="456.37" stroke="#ff7a2a" stroke-width="1.1" stroke-dasharray="2,1"/><line x1="234.41" y1="440.18" x2="237.41" y2="440.18" stroke="#ff7a2a" stroke-width="1.0"/><line x1="234.41" y1="456.37" x2="237.41" y2="456.37" stroke="#ff7a2a" stroke-width="1.0"/>
<rect x="233.51" y="445.50" width="4.80" height="4.80" fill="#ff7a2a"/>
<line x1="243.74" y1="434.07" x2="243.74" y2="448.75" stroke="#ff7a2a" stroke-width="1.1" stroke-dasharray="2,1"/><line x1="242.24" y1="434.07" x2="245.24" y2="434.07" stroke="#ff7a2a" stroke-width="1.0"/><line x1="242.24" y1="448.75" x2="245.24" y2="448.75" stroke="#ff7a2a" stroke-width="1.0"/>
<rect x="241.34" y="438.70" width="4.80" height="4.80" fill="#ff7a2a"/>
<line x1="251.58" y1="438.52" x2="251.58" y2="452.64" stroke="#ff7a2a" stroke-width="1.1" stroke-dasharray="2,1"/><line x1="250.08" y1="438.52" x2="253.08" y2="438.52" stroke="#ff7a2a" stroke-width="1.0"/><line x1="250.08" y1="452.64" x2="253.08" y2="452.64" stroke="#ff7a2a" stroke-width="1.0"/>
<rect x="249.18" y="442.90" width="4.80" height="4.80" fill="#ff7a2a"/>
<line x1="259.41" y1="426.67" x2="259.41" y2="438.96" stroke="#ff7a2a" stroke-width="1.1" stroke-dasharray="2,1"/><line x1="257.91" y1="426.67" x2="260.91" y2="426.67" stroke="#ff7a2a" stroke-width="1.0"/><line x1="257.91" y1="438.96" x2="260.91" y2="438.96" stroke="#ff7a2a" stroke-width="1.0"/>
<rect x="257.01" y="430.20" width="4.80" height="4.80" fill="#ff7a2a"/>
<line x1="267.24" y1="432.40" x2="267.24" y2="444.20" stroke="#ff7a2a" stroke-width="1.1" stroke-dasharray="2,1"/><line x1="265.74" y1="432.40" x2="268.74" y2="432.40" stroke="#ff7a2a" stroke-width="1.0"/><line x1="265.74" y1="444.20" x2="268.74" y2="444.20" stroke="#ff7a2a" stroke-width="1.0"/>
<rect x="264.84" y="435.70" width="4.80" height="4.80" fill="#ff7a2a"/>
<line x1="275.08" y1="435.72" x2="275.08" y2="446.83" stroke="#ff7a2a" stroke-width="1.1" stroke-dasharray="2,1"/><line x1="273.58" y1="435.72" x2="276.58" y2="435.72" stroke="#ff7a2a" stroke-width="1.0"/><line x1="273.58" y1="446.83" x2="276.58" y2="446.83" stroke="#ff7a2a" stroke-width="1.0"/>
<rect x="272.68" y="438.70" width="4.80" height="4.80" fill="#ff7a2a"/>
<line x1="282.91" y1="443.52" x2="282.91" y2="454.20" stroke="#ff7a2a" stroke-width="1.1" stroke-dasharray="2,1"/><line x1="281.41" y1="443.52" x2="284.41" y2="443.52" stroke="#ff7a2a" stroke-width="1.0"/><line x1="281.41" y1="454.20" x2="284.41" y2="454.20" stroke="#ff7a2a" stroke-width="1.0"/>
<rect x="280.51" y="446.30" width="4.80" height="4.80" fill="#ff7a2a"/>
<line x1="290.75" y1="438.81" x2="290.75" y2="448.67" stroke="#ff7a2a" stroke-width="1.1" stroke-dasharray="2,1"/><line x1="289.25" y1="438.81" x2="292.25" y2="438.81" stroke="#ff7a2a" stroke-width="1.0"/><line x1="289.25" y1="448.67" x2="292.25" y2="448.67" stroke="#ff7a2a" stroke-width="1.0"/>
<rect x="288.35" y="441.20" width="4.80" height="4.80" fill="#ff7a2a"/>
<line x1="298.58" y1="440.86" x2="298.58" y2="449.98" stroke="#ff7a2a" stroke-width="1.1" stroke-dasharray="2,1"/><line x1="297.08" y1="440.86" x2="300.08" y2="440.86" stroke="#ff7a2a" stroke-width="1.0"/><line x1="297.08" y1="449.98" x2="300.08" y2="449.98" stroke="#ff7a2a" stroke-width="1.0"/>
<rect x="296.18" y="442.90" width="4.80" height="4.80" fill="#ff7a2a"/>
<line x1="306.42" y1="445.44" x2="306.42" y2="453.97" stroke="#ff7a2a" stroke-width="1.1" stroke-dasharray="2,1"/><line x1="304.92" y1="445.44" x2="307.92" y2="445.44" stroke="#ff7a2a" stroke-width="1.0"/><line x1="304.92" y1="453.97" x2="307.92" y2="453.97" stroke="#ff7a2a" stroke-width="1.0"/>
<rect x="304.02" y="447.20" width="4.80" height="4.80" fill="#ff7a2a"/>
<line x1="314.25" y1="439.94" x2="314.25" y2="447.42" stroke="#ff7a2a" stroke-width="1.1" stroke-dasharray="2,1"/><line x1="312.75" y1="439.94" x2="315.75" y2="439.94" stroke="#ff7a2a" stroke-width="1.0"/><line x1="312.75" y1="447.42" x2="315.75" y2="447.42" stroke="#ff7a2a" stroke-width="1.0"/>
<rect x="311.85" y="441.20" width="4.80" height="4.80" fill="#ff7a2a"/>
<line x1="322.08" y1="434.88" x2="322.08" y2="441.44" stroke="#ff7a2a" stroke-width="1.1" stroke-dasharray="2,1"/><line x1="320.58" y1="434.88" x2="323.58" y2="434.88" stroke="#ff7a2a" stroke-width="1.0"/><line x1="320.58" y1="441.44" x2="323.58" y2="441.44" stroke="#ff7a2a" stroke-width="1.0"/>
<rect x="319.68" y="435.70" width="4.80" height="4.80" fill="#ff7a2a"/>
<line x1="329.92" y1="431.07" x2="329.92" y2="436.83" stroke="#ff7a2a" stroke-width="1.1" stroke-dasharray="2,1"/><line x1="328.42" y1="431.07" x2="331.42" y2="431.07" stroke="#ff7a2a" stroke-width="1.0"/><line x1="328.42" y1="436.83" x2="331.42" y2="436.83" stroke="#ff7a2a" stroke-width="1.0"/>
<rect x="327.52" y="431.50" width="4.80" height="4.80" fill="#ff7a2a"/>
<rect x="335.35" y="424.20" width="4.80" height="4.80" fill="#ff7a2a"/>
<rect x="343.19" y="414.50" width="4.80" height="4.80" fill="#ff7a2a"/>
<rect x="351.02" y="399.60" width="4.80" height="4.80" fill="#ff7a2a"/>
<rect x="358.86" y="359.20" width="4.80" height="4.80" fill="#ff7a2a"/>
<path d="M55.72,432.60 L63.55,427.20 L71.39,388.00 L79.22,386.40 L87.05,399.80 L94.89,405.20 L102.72,396.20 L110.56,404.40 L118.39,394.40 L126.23,385.70 L134.06,370.00 L141.89,376.30 L149.73,358.30 L157.56,372.80 L165.40,374.70 L173.23,347.00 L181.07,362.30 L188.90,360.60 L196.74,363.40 L204.57,361.60 L212.40,365.90 L220.24,363.70 L228.07,358.20 L235.91,360.80 L243.74,364.60 L251.58,372.20 L259.41,357.40 L267.24,365.00 L275.08,360.80 L282.91,365.90 L290.75,367.10 L298.58,370.10 L306.42,378.60 L314.25,374.40 L322.08,371.40 L329.92,376.50 L337.75,379.90 L345.59,378.60 L353.42,377.30 L361.26,379.50" fill="none" stroke="#0000ff" stroke-width="1.1"/>
<line x1="55.72" y1="417.86" x2="55.72" y2="450.33" stroke="#0000ff" stroke-width="1.1"/><line x1="54.22" y1="417.86" x2="57.22" y2="417.86" stroke="#0000ff" stroke-width="1.0"/><line x1="54.22" y1="450.33" x2="57.22" y2="450.33" stroke="#0000ff" stroke-width="1.0"/>
<path d="M55.72,429.60 L58.72,435.20 L52.72,435.20 Z" fill="#0000ff"/>
<line x1="63.55" y1="413.17" x2="63.55" y2="443.91" stroke="#0000ff" stroke-width="1.1"/><line x1="62.05" y1="413.17" x2="65.05" y2="413.17" stroke="#0000ff" stroke-width="1.0"/><line x1="62.05" y1="443.91" x2="65.05" y2="443.91" stroke="#0000ff" stroke-width="1.0"/>
<path d="M63.55,424.20 L66.55,429.80 L60.55,429.80 Z" fill="#0000ff"/>
<line x1="71.39" y1="376.86" x2="71.39" y2="400.77" stroke="#0000ff" stroke-width="1.1"/><line x1="69.89" y1="376.86" x2="72.89" y2="376.86" stroke="#0000ff" stroke-width="1.0"/><line x1="69.89" y1="400.77" x2="72.89" y2="400.77" stroke="#0000ff" stroke-width="1.0"/>
<path d="M71.39,385.00 L74.39,390.60 L68.39,390.60 Z" fill="#0000ff"/>
<line x1="79.22" y1="375.60" x2="79.22" y2="398.72" stroke="#0000ff" stroke-width="1.1"/><line x1="77.72" y1="375.60" x2="80.72" y2="375.60" stroke="#0000ff" stroke-width="1.0"/><line x1="77.72" y1="398.72" x2="80.72" y2="398.72" stroke="#0000ff" stroke-width="1.0"/>
<path d="M79.22,383.40 L82.22,389.00 L76.22,389.00 Z" fill="#0000ff"/>
<line x1="87.05" y1="388.46" x2="87.05" y2="412.83" stroke="#0000ff" stroke-width="1.1"/><line x1="85.55" y1="388.46" x2="88.55" y2="388.46" stroke="#0000ff" stroke-width="1.0"/><line x1="85.55" y1="412.83" x2="88.55" y2="412.83" stroke="#0000ff" stroke-width="1.0"/>
<path d="M87.05,396.80 L90.05,402.40 L84.05,402.40 Z" fill="#0000ff"/>
<line x1="94.89" y1="393.80" x2="94.89" y2="418.30" stroke="#0000ff" stroke-width="1.1"/><line x1="93.39" y1="393.80" x2="96.39" y2="393.80" stroke="#0000ff" stroke-width="1.0"/><line x1="93.39" y1="418.30" x2="96.39" y2="418.30" stroke="#0000ff" stroke-width="1.0"/>
<path d="M94.89,402.20 L97.89,407.80 L91.89,407.80 Z" fill="#0000ff"/>
<line x1="102.72" y1="385.60" x2="102.72" y2="408.26" stroke="#0000ff" stroke-width="1.1"/><line x1="101.22" y1="385.60" x2="104.22" y2="385.60" stroke="#0000ff" stroke-width="1.0"/><line x1="101.22" y1="408.26" x2="104.22" y2="408.26" stroke="#0000ff" stroke-width="1.0"/>
<path d="M102.72,393.20 L105.72,398.80 L99.72,398.80 Z" fill="#0000ff"/>
<line x1="110.56" y1="393.60" x2="110.56" y2="416.72" stroke="#0000ff" stroke-width="1.1"/><line x1="109.06" y1="393.60" x2="112.06" y2="393.60" stroke="#0000ff" stroke-width="1.0"/><line x1="109.06" y1="416.72" x2="112.06" y2="416.72" stroke="#0000ff" stroke-width="1.0"/>
<path d="M110.56,401.40 L113.56,407.00 L107.56,407.00 Z" fill="#0000ff"/>
<line x1="118.39" y1="384.42" x2="118.39" y2="405.66" stroke="#0000ff" stroke-width="1.1"/><line x1="116.89" y1="384.42" x2="119.89" y2="384.42" stroke="#0000ff" stroke-width="1.0"/><line x1="116.89" y1="405.66" x2="119.89" y2="405.66" stroke="#0000ff" stroke-width="1.0"/>
<path d="M118.39,391.40 L121.39,397.00 L115.39,397.00 Z" fill="#0000ff"/>
<line x1="126.23" y1="376.43" x2="126.23" y2="396.06" stroke="#0000ff" stroke-width="1.1"/><line x1="124.73" y1="376.43" x2="127.73" y2="376.43" stroke="#0000ff" stroke-width="1.0"/><line x1="124.73" y1="396.06" x2="127.73" y2="396.06" stroke="#0000ff" stroke-width="1.0"/>
<path d="M126.23,382.70 L129.23,388.30 L123.23,388.30 Z" fill="#0000ff"/>
<line x1="134.06" y1="361.72" x2="134.06" y2="379.14" stroke="#0000ff" stroke-width="1.1"/><line x1="132.56" y1="361.72" x2="135.56" y2="361.72" stroke="#0000ff" stroke-width="1.0"/><line x1="132.56" y1="379.14" x2="135.56" y2="379.14" stroke="#0000ff" stroke-width="1.0"/>
<path d="M134.06,367.00 L137.06,372.60 L131.06,372.60 Z" fill="#0000ff"/>
<line x1="141.89" y1="367.97" x2="141.89" y2="385.50" stroke="#0000ff" stroke-width="1.1"/><line x1="140.39" y1="367.97" x2="143.39" y2="367.97" stroke="#0000ff" stroke-width="1.0"/><line x1="140.39" y1="385.50" x2="143.39" y2="385.50" stroke="#0000ff" stroke-width="1.0"/>
<path d="M141.89,373.30 L144.89,378.90 L138.89,378.90 Z" fill="#0000ff"/>
<line x1="149.73" y1="350.97" x2="149.73" y2="366.30" stroke="#0000ff" stroke-width="1.1"/><line x1="148.23" y1="350.97" x2="151.23" y2="350.97" stroke="#0000ff" stroke-width="1.0"/><line x1="148.23" y1="366.30" x2="151.23" y2="366.30" stroke="#0000ff" stroke-width="1.0"/>
<path d="M149.73,355.30 L152.73,360.90 L146.73,360.90 Z" fill="#0000ff"/>
<line x1="157.56" y1="365.10" x2="157.56" y2="381.24" stroke="#0000ff" stroke-width="1.1"/><line x1="156.06" y1="365.10" x2="159.06" y2="365.10" stroke="#0000ff" stroke-width="1.0"/><line x1="156.06" y1="381.24" x2="159.06" y2="381.24" stroke="#0000ff" stroke-width="1.0"/>
<path d="M157.56,369.80 L160.56,375.40 L154.56,375.40 Z" fill="#0000ff"/>
<line x1="165.40" y1="367.16" x2="165.40" y2="382.95" stroke="#0000ff" stroke-width="1.1"/><line x1="163.90" y1="367.16" x2="166.90" y2="367.16" stroke="#0000ff" stroke-width="1.0"/><line x1="163.90" y1="382.95" x2="166.90" y2="382.95" stroke="#0000ff" stroke-width="1.0"/>
<path d="M165.40,371.70 L168.40,377.30 L162.40,377.30 Z" fill="#0000ff"/>
<line x1="173.23" y1="340.73" x2="173.23" y2="353.75" stroke="#0000ff" stroke-width="1.1"/><line x1="171.73" y1="340.73" x2="174.73" y2="340.73" stroke="#0000ff" stroke-width="1.0"/><line x1="171.73" y1="353.75" x2="174.73" y2="353.75" stroke="#0000ff" stroke-width="1.0"/>
<path d="M173.23,344.00 L176.23,349.60 L170.23,349.60 Z" fill="#0000ff"/>
<line x1="181.07" y1="355.71" x2="181.07" y2="369.43" stroke="#0000ff" stroke-width="1.1"/><line x1="179.57" y1="355.71" x2="182.57" y2="355.71" stroke="#0000ff" stroke-width="1.0"/><line x1="179.57" y1="369.43" x2="182.57" y2="369.43" stroke="#0000ff" stroke-width="1.0"/>
<path d="M181.07,359.30 L184.07,364.90 L178.07,364.90 Z" fill="#0000ff"/>
<line x1="188.90" y1="354.30" x2="188.90" y2="367.39" stroke="#0000ff" stroke-width="1.1"/><line x1="187.40" y1="354.30" x2="190.40" y2="354.30" stroke="#0000ff" stroke-width="1.0"/><line x1="187.40" y1="367.39" x2="190.40" y2="367.39" stroke="#0000ff" stroke-width="1.0"/>
<path d="M188.90,357.60 L191.90,363.20 L185.90,363.20 Z" fill="#0000ff"/>
<line x1="196.74" y1="357.23" x2="196.74" y2="370.04" stroke="#0000ff" stroke-width="1.1"/><line x1="195.24" y1="357.23" x2="198.24" y2="357.23" stroke="#0000ff" stroke-width="1.0"/><line x1="195.24" y1="370.04" x2="198.24" y2="370.04" stroke="#0000ff" stroke-width="1.0"/>
<path d="M196.74,360.40 L199.74,366.00 L193.74,366.00 Z" fill="#0000ff"/>
<line x1="204.57" y1="355.74" x2="204.57" y2="367.88" stroke="#0000ff" stroke-width="1.1"/><line x1="203.07" y1="355.74" x2="206.07" y2="355.74" stroke="#0000ff" stroke-width="1.0"/><line x1="203.07" y1="367.88" x2="206.07" y2="367.88" stroke="#0000ff" stroke-width="1.0"/>
<path d="M204.57,358.60 L207.57,364.20 L201.57,364.20 Z" fill="#0000ff"/>
<line x1="212.40" y1="360.17" x2="212.40" y2="372.04" stroke="#0000ff" stroke-width="1.1"/><line x1="210.90" y1="360.17" x2="213.90" y2="360.17" stroke="#0000ff" stroke-width="1.0"/><line x1="210.90" y1="372.04" x2="213.90" y2="372.04" stroke="#0000ff" stroke-width="1.0"/>
<path d="M212.40,362.90 L215.40,368.50 L209.40,368.50 Z" fill="#0000ff"/>
<line x1="220.24" y1="358.30" x2="220.24" y2="369.45" stroke="#0000ff" stroke-width="1.1"/><line x1="218.74" y1="358.30" x2="221.74" y2="358.30" stroke="#0000ff" stroke-width="1.0"/><line x1="218.74" y1="369.45" x2="221.74" y2="369.45" stroke="#0000ff" stroke-width="1.0"/>
<path d="M220.24,360.70 L223.24,366.30 L217.24,366.30 Z" fill="#0000ff"/>
<line x1="228.07" y1="353.23" x2="228.07" y2="363.47" stroke="#0000ff" stroke-width="1.1"/><line x1="226.57" y1="353.23" x2="229.57" y2="353.23" stroke="#0000ff" stroke-width="1.0"/><line x1="226.57" y1="363.47" x2="229.57" y2="363.47" stroke="#0000ff" stroke-width="1.0"/>
<path d="M228.07,355.20 L231.07,360.80 L225.07,360.80 Z" fill="#0000ff"/>
<line x1="235.91" y1="356.02" x2="235.91" y2="365.86" stroke="#0000ff" stroke-width="1.1"/><line x1="234.41" y1="356.02" x2="237.41" y2="356.02" stroke="#0000ff" stroke-width="1.0"/><line x1="234.41" y1="365.86" x2="237.41" y2="365.86" stroke="#0000ff" stroke-width="1.0"/>
<path d="M235.91,357.80 L238.91,363.40 L232.91,363.40 Z" fill="#0000ff"/>
<line x1="243.74" y1="359.99" x2="243.74" y2="369.47" stroke="#0000ff" stroke-width="1.1"/><line x1="242.24" y1="359.99" x2="245.24" y2="359.99" stroke="#0000ff" stroke-width="1.0"/><line x1="242.24" y1="369.47" x2="245.24" y2="369.47" stroke="#0000ff" stroke-width="1.0"/>
<path d="M243.74,361.60 L246.74,367.20 L240.74,367.20 Z" fill="#0000ff"/>
<line x1="251.58" y1="367.67" x2="251.58" y2="376.97" stroke="#0000ff" stroke-width="1.1"/><line x1="250.08" y1="367.67" x2="253.08" y2="367.67" stroke="#0000ff" stroke-width="1.0"/><line x1="250.08" y1="376.97" x2="253.08" y2="376.97" stroke="#0000ff" stroke-width="1.0"/>
<path d="M251.58,369.20 L254.58,374.80 L248.58,374.80 Z" fill="#0000ff"/>
<line x1="259.41" y1="353.49" x2="259.41" y2="361.49" stroke="#0000ff" stroke-width="1.1"/><line x1="257.91" y1="353.49" x2="260.91" y2="353.49" stroke="#0000ff" stroke-width="1.0"/><line x1="257.91" y1="361.49" x2="260.91" y2="361.49" stroke="#0000ff" stroke-width="1.0"/>
<path d="M259.41,354.40 L262.41,360.00 L256.41,360.00 Z" fill="#0000ff"/>
<line x1="267.24" y1="361.20" x2="267.24" y2="368.97" stroke="#0000ff" stroke-width="1.1"/><line x1="265.74" y1="361.20" x2="268.74" y2="361.20" stroke="#0000ff" stroke-width="1.0"/><line x1="265.74" y1="368.97" x2="268.74" y2="368.97" stroke="#0000ff" stroke-width="1.0"/>
<path d="M267.24,362.00 L270.24,367.60 L264.24,367.60 Z" fill="#0000ff"/>
<line x1="275.08" y1="357.36" x2="275.08" y2="364.38" stroke="#0000ff" stroke-width="1.1"/><line x1="273.58" y1="357.36" x2="276.58" y2="357.36" stroke="#0000ff" stroke-width="1.0"/><line x1="273.58" y1="364.38" x2="276.58" y2="364.38" stroke="#0000ff" stroke-width="1.0"/>
<path d="M275.08,357.80 L278.08,363.40 L272.08,363.40 Z" fill="#0000ff"/>
<line x1="282.91" y1="362.64" x2="282.91" y2="369.29" stroke="#0000ff" stroke-width="1.1"/><line x1="281.41" y1="362.64" x2="284.41" y2="362.64" stroke="#0000ff" stroke-width="1.0"/><line x1="281.41" y1="369.29" x2="284.41" y2="369.29" stroke="#0000ff" stroke-width="1.0"/>
<path d="M282.91,362.90 L285.91,368.50 L279.91,368.50 Z" fill="#0000ff"/>
<line x1="290.75" y1="363.97" x2="290.75" y2="370.34" stroke="#0000ff" stroke-width="1.1"/><line x1="289.25" y1="363.97" x2="292.25" y2="363.97" stroke="#0000ff" stroke-width="1.0"/><line x1="289.25" y1="370.34" x2="292.25" y2="370.34" stroke="#0000ff" stroke-width="1.0"/>
<path d="M290.75,364.10 L293.75,369.70 L287.75,369.70 Z" fill="#0000ff"/>
<line x1="298.58" y1="367.18" x2="298.58" y2="373.12" stroke="#0000ff" stroke-width="1.1"/><line x1="297.08" y1="367.18" x2="300.08" y2="367.18" stroke="#0000ff" stroke-width="1.0"/><line x1="297.08" y1="373.12" x2="300.08" y2="373.12" stroke="#0000ff" stroke-width="1.0"/>
<path d="M298.58,367.10 L301.58,372.70 L295.58,372.70 Z" fill="#0000ff"/>
<line x1="306.42" y1="375.80" x2="306.42" y2="381.49" stroke="#0000ff" stroke-width="1.1"/><line x1="304.92" y1="375.80" x2="307.92" y2="375.80" stroke="#0000ff" stroke-width="1.0"/><line x1="304.92" y1="381.49" x2="307.92" y2="381.49" stroke="#0000ff" stroke-width="1.0"/>
<path d="M306.42,375.60 L309.42,381.20 L303.42,381.20 Z" fill="#0000ff"/>
<path d="M314.25,371.40 L317.25,377.00 L311.25,377.00 Z" fill="#0000ff"/>
<path d="M322.08,368.40 L325.08,374.00 L319.08,374.00 Z" fill="#0000ff"/>
<path d="M329.92,373.50 L332.92,379.10 L326.92,379.10 Z" fill="#0000ff"/>
<path d="M337.75,376.90 L340.75,382.50 L334.75,382.50 Z" fill="#0000ff"/>
<path d="M345.59,375.60 L348.59,381.20 L342.59,381.20 Z" fill="#0000ff"/>
<path d="M353.42,374.30 L356.42,379.90 L350.42,379.90 Z" fill="#0000ff"/>
<path d="M361.26,376.50 L364.26,382.10 L358.26,382.10 Z" fill="#0000ff"/>
<path d="M55.72,264.10 L63.55,260.00 L71.39,267.00 L79.22,260.80 L87.05,265.00 L94.89,261.10 L102.72,258.80 L110.56,257.90 L118.39,259.60 L126.23,257.40 L134.06,253.20 L141.89,254.30 L149.73,257.00 L157.56,247.50 L165.40,251.00 L173.23,248.00 L181.07,245.80 L188.90,244.80 L196.74,239.80 L204.57,239.00 L212.40,232.40 L220.24,228.60 L228.07,229.00 L235.91,223.00 L243.74,219.80 L251.58,214.80 L259.41,211.50 L267.24,207.00 L275.08,203.00 L282.91,196.60 L290.75,190.70 L298.58,186.60 L306.42,179.40 L314.25,173.80 L322.08,167.20 L329.92,159.00 L337.75,151.60 L345.59,141.60 L353.42,130.90 L361.26,117.00" fill="none" stroke="#c8305a" stroke-width="1.1" stroke-dasharray="3,2"/>
<line x1="55.72" y1="260.20" x2="55.72" y2="268.63" stroke="#c8305a" stroke-width="1.1" stroke-dasharray="2,1"/><line x1="54.22" y1="260.20" x2="57.22" y2="260.20" stroke="#c8305a" stroke-width="1.0"/><line x1="54.22" y1="268.63" x2="57.22" y2="268.63" stroke="#c8305a" stroke-width="1.0"/>
<circle cx="55.72" cy="264.10" r="2.50" fill="none" stroke="#c8305a" stroke-width="1.1"/>
<line x1="63.55" y1="256.19" x2="63.55" y2="264.42" stroke="#c8305a" stroke-width="1.1" stroke-dasharray="2,1"/><line x1="62.05" y1="256.19" x2="65.05" y2="256.19" stroke="#c8305a" stroke-width="1.0"/><line x1="62.05" y1="264.42" x2="65.05" y2="264.42" stroke="#c8305a" stroke-width="1.0"/>
<circle cx="63.55" cy="260.00" r="2.50" fill="none" stroke="#c8305a" stroke-width="1.1"/>
<line x1="71.39" y1="263.27" x2="71.39" y2="271.31" stroke="#c8305a" stroke-width="1.1" stroke-dasharray="2,1"/><line x1="69.89" y1="263.27" x2="72.89" y2="263.27" stroke="#c8305a" stroke-width="1.0"/><line x1="69.89" y1="271.31" x2="72.89" y2="271.31" stroke="#c8305a" stroke-width="1.0"/>
<circle cx="71.39" cy="267.00" r="2.50" fill="none" stroke="#c8305a" stroke-width="1.1"/>
<line x1="79.22" y1="257.15" x2="79.22" y2="265.00" stroke="#c8305a" stroke-width="1.1" stroke-dasharray="2,1"/><line x1="77.72" y1="257.15" x2="80.72" y2="257.15" stroke="#c8305a" stroke-width="1.0"/><line x1="77.72" y1="265.00" x2="80.72" y2="265.00" stroke="#c8305a" stroke-width="1.0"/>
<circle cx="79.22" cy="260.80" r="2.50" fill="none" stroke="#c8305a" stroke-width="1.1"/>
<line x1="87.05" y1="261.44" x2="87.05" y2="269.09" stroke="#c8305a" stroke-width="1.1" stroke-dasharray="2,1"/><line x1="85.55" y1="261.44" x2="88.55" y2="261.44" stroke="#c8305a" stroke-width="1.0"/><line x1="85.55" y1="269.09" x2="88.55" y2="269.09" stroke="#c8305a" stroke-width="1.0"/>
<circle cx="87.05" cy="265.00" r="2.50" fill="none" stroke="#c8305a" stroke-width="1.1"/>
<line x1="94.89" y1="257.62" x2="94.89" y2="265.08" stroke="#c8305a" stroke-width="1.1" stroke-dasharray="2,1"/><line x1="93.39" y1="257.62" x2="96.39" y2="257.62" stroke="#c8305a" stroke-width="1.0"/><line x1="93.39" y1="265.08" x2="96.39" y2="265.08" stroke="#c8305a" stroke-width="1.0"/>
<circle cx="94.89" cy="261.10" r="2.50" fill="none" stroke="#c8305a" stroke-width="1.1"/>
<line x1="102.72" y1="255.40" x2="102.72" y2="262.67" stroke="#c8305a" stroke-width="1.1" stroke-dasharray="2,1"/><line x1="101.22" y1="255.40" x2="104.22" y2="255.40" stroke="#c8305a" stroke-width="1.0"/><line x1="101.22" y1="262.67" x2="104.22" y2="262.67" stroke="#c8305a" stroke-width="1.0"/>
<circle cx="102.72" cy="258.80" r="2.50" fill="none" stroke="#c8305a" stroke-width="1.1"/>
<line x1="110.56" y1="254.59" x2="110.56" y2="261.66" stroke="#c8305a" stroke-width="1.1" stroke-dasharray="2,1"/><line x1="109.06" y1="254.59" x2="112.06" y2="254.59" stroke="#c8305a" stroke-width="1.0"/><line x1="109.06" y1="261.66" x2="112.06" y2="261.66" stroke="#c8305a" stroke-width="1.0"/>
<circle cx="110.56" cy="257.90" r="2.50" fill="none" stroke="#c8305a" stroke-width="1.1"/>
<line x1="118.39" y1="256.37" x2="118.39" y2="263.25" stroke="#c8305a" stroke-width="1.1" stroke-dasharray="2,1"/><line x1="116.89" y1="256.37" x2="119.89" y2="256.37" stroke="#c8305a" stroke-width="1.0"/><line x1="116.89" y1="263.25" x2="119.89" y2="263.25" stroke="#c8305a" stroke-width="1.0"/>
<circle cx="118.39" cy="259.60" r="2.50" fill="none" stroke="#c8305a" stroke-width="1.1"/>
<line x1="126.23" y1="254.26" x2="126.23" y2="260.94" stroke="#c8305a" stroke-width="1.1" stroke-dasharray="2,1"/><line x1="124.73" y1="254.26" x2="127.73" y2="254.26" stroke="#c8305a" stroke-width="1.0"/><line x1="124.73" y1="260.94" x2="127.73" y2="260.94" stroke="#c8305a" stroke-width="1.0"/>
<circle cx="126.23" cy="257.40" r="2.50" fill="none" stroke="#c8305a" stroke-width="1.1"/>
<line x1="134.06" y1="250.14" x2="134.06" y2="256.63" stroke="#c8305a" stroke-width="1.1" stroke-dasharray="2,1"/><line x1="132.56" y1="250.14" x2="135.56" y2="250.14" stroke="#c8305a" stroke-width="1.0"/><line x1="132.56" y1="256.63" x2="135.56" y2="256.63" stroke="#c8305a" stroke-width="1.0"/>
<circle cx="134.06" cy="253.20" r="2.50" fill="none" stroke="#c8305a" stroke-width="1.1"/>
<line x1="141.89" y1="251.33" x2="141.89" y2="257.63" stroke="#c8305a" stroke-width="1.1" stroke-dasharray="2,1"/><line x1="140.39" y1="251.33" x2="143.39" y2="251.33" stroke="#c8305a" stroke-width="1.0"/><line x1="140.39" y1="257.63" x2="143.39" y2="257.63" stroke="#c8305a" stroke-width="1.0"/>
<circle cx="141.89" cy="254.30" r="2.50" fill="none" stroke="#c8305a" stroke-width="1.1"/>
<line x1="149.73" y1="254.11" x2="149.73" y2="260.22" stroke="#c8305a" stroke-width="1.1" stroke-dasharray="2,1"/><line x1="148.23" y1="254.11" x2="151.23" y2="254.11" stroke="#c8305a" stroke-width="1.0"/><line x1="148.23" y1="260.22" x2="151.23" y2="260.22" stroke="#c8305a" stroke-width="1.0"/>
<circle cx="149.73" cy="257.00" r="2.50" fill="none" stroke="#c8305a" stroke-width="1.1"/>
<circle cx="157.56" cy="247.50" r="2.50" fill="none" stroke="#c8305a" stroke-width="1.1"/>
<circle cx="165.40" cy="251.00" r="2.50" fill="none" stroke="#c8305a" stroke-width="1.1"/>
<circle cx="173.23" cy="248.00" r="2.50" fill="none" stroke="#c8305a" stroke-width="1.1"/>
<circle cx="181.07" cy="245.80" r="2.50" fill="none" stroke="#c8305a" stroke-width="1.1"/>
<circle cx="188.90" cy="244.80" r="2.50" fill="none" stroke="#c8305a" stroke-width="1.1"/>
<circle cx="196.74" cy="239.80" r="2.50" fill="none" stroke="#c8305a" stroke-width="1.1"/>
<circle cx="204.57" cy="239.00" r="2.50" fill="none" stroke="#c8305a" stroke-width="1.1"/>
<circle cx="212.40" cy="232.40" r="2.50" fill="none" stroke="#c8305a" stroke-width="1.1"/>
<circle cx="220.24" cy="228.60" r="2.50" fill="none" stroke="#c8305a" stroke-width="1.1"/>
<circle cx="228.07" cy="229.00" r="2.50" fill="none" stroke="#c8305a" stroke-width="1.1"/>
<circle cx="235.91" cy="223.00" r="2.50" fill="none" stroke="#c8305a" stroke-width="1.1"/>
<circle cx="243.74" cy="219.80" r="2.50" fill="none" stroke="#c8305a" stroke-width="1.1"/>
<circle cx="251.58" cy="214.80" r="2.50" fill="none" stroke="#c8305a" stroke-width="1.1"/>
<circle cx="259.41" cy="211.50" r="2.50" fill="none" stroke="#c8305a" stroke-width="1.1"/>
<circle cx="267.24" cy="207.00" r="2.50" fill="none" stroke="#c8305a" stroke-width="1.1"/>
<circle cx="275.08" cy="203.00" r="2.50" fill="none" stroke="#c8305a" stroke-width="1.1"/>
<circle cx="282.91" cy="196.60" r="2.50" fill="none" stroke="#c8305a" stroke-width="1.1"/>
<circle cx="290.75" cy="190.70" r="2.50" fill="none" stroke="#c8305a" stroke-width="1.1"/>
<circle cx="298.58" cy="186.60" r="2.50" fill="none" stroke="#c8305a" stroke-width="1.1"/>
<circle cx="306.42" cy="179.40" r="2.50" fill="none" stroke="#c8305a" stroke-width="1.1"/>
<circle cx="314.25" cy="173.80" r="2.50" fill="none" stroke="#c8305a" stroke-width="1.1"/>
<circle cx="322.08" cy="167.20" r="2.50" fill="none" stroke="#c8305a" stroke-width="1.1"/>
<circle cx="329.92" cy="159.00" r="2.50" fill="none" stroke="#c8305a" stroke-width="1.1"/>
<circle cx="337.75" cy="151.60" r="2.50" fill="none" stroke="#c8305a" stroke-width="1.1"/>
<circle cx="345.59" cy="141.60" r="2.50" fill="none" stroke="#c8305a" stroke-width="1.1"/>
<circle cx="353.42" cy="130.90" r="2.50" fill="none" stroke="#c8305a" stroke-width="1.1"/>
<circle cx="361.26" cy="117.00" r="2.50" fill="none" stroke="#c8305a" stroke-width="1.1"/>
<path d="M55.72,264.54 L63.55,266.70 L71.39,265.48 L79.22,263.85 L87.05,255.57 L94.89,259.70 L102.72,259.50 L110.56,257.96 L118.39,261.89 L126.23,255.05 L134.06,255.07 L141.89,255.00 L149.73,257.06 L157.56,251.09 L165.40,251.38 L173.23,246.92 L181.07,246.50 L188.90,241.69 L196.74,237.83 L204.57,234.43 L212.40,232.15 L220.24,229.30 L228.07,222.93 L235.91,223.06 L243.74,223.33 L251.58,213.09 L259.41,208.77 L267.24,205.92 L275.08,201.60 L282.91,197.46 L290.75,190.13 L298.58,184.25 L306.42,179.46 L314.25,172.43 L322.08,167.42 L329.92,158.75 L337.75,151.19 L345.59,141.19 L353.42,130.49 L361.26,116.59" fill="none" stroke="#b48a4c" stroke-width="1.1" stroke-dasharray="1,1.5"/>
<line x1="55.72" y1="260.62" x2="55.72" y2="269.11" stroke="#b48a4c" stroke-width="1.1" stroke-dasharray="2,1"/><line x1="54.22" y1="260.62" x2="57.22" y2="260.62" stroke="#b48a4c" stroke-width="1.0"/><line x1="54.22" y1="269.11" x2="57.22" y2="269.11" stroke="#b48a4c" stroke-width="1.0"/>
<rect x="53.12" y="261.94" width="5.20" height="5.20" fill="none" stroke="#b48a4c" stroke-width="1.05"/>
<line x1="63.55" y1="262.47" x2="63.55" y2="271.69" stroke="#b48a4c" stroke-width="1.1" stroke-dasharray="2,1"/><line x1="62.05" y1="262.47" x2="65.05" y2="262.47" stroke="#b48a4c" stroke-width="1.0"/><line x1="62.05" y1="271.69" x2="65.05" y2="271.69" stroke="#b48a4c" stroke-width="1.0"/>
<rect x="60.95" y="264.10" width="5.20" height="5.20" fill="none" stroke="#b48a4c" stroke-width="1.05"/>
<line x1="71.39" y1="261.90" x2="71.39" y2="269.58" stroke="#b48a4c" stroke-width="1.1" stroke-dasharray="2,1"/><line x1="69.89" y1="261.90" x2="72.89" y2="261.90" stroke="#b48a4c" stroke-width="1.0"/><line x1="69.89" y1="269.58" x2="72.89" y2="269.58" stroke="#b48a4c" stroke-width="1.0"/>
<rect x="68.79" y="262.88" width="5.20" height="5.20" fill="none" stroke="#b48a4c" stroke-width="1.05"/>
<line x1="79.22" y1="260.10" x2="79.22" y2="268.18" stroke="#b48a4c" stroke-width="1.1" stroke-dasharray="2,1"/><line x1="77.72" y1="260.10" x2="80.72" y2="260.10" stroke="#b48a4c" stroke-width="1.0"/><line x1="77.72" y1="268.18" x2="80.72" y2="268.18" stroke="#b48a4c" stroke-width="1.0"/>
<rect x="76.62" y="261.25" width="5.20" height="5.20" fill="none" stroke="#b48a4c" stroke-width="1.05"/>
<line x1="87.05" y1="252.63" x2="87.05" y2="258.86" stroke="#b48a4c" stroke-width="1.1" stroke-dasharray="2,1"/><line x1="85.55" y1="252.63" x2="88.55" y2="252.63" stroke="#b48a4c" stroke-width="1.0"/><line x1="85.55" y1="258.86" x2="88.55" y2="258.86" stroke="#b48a4c" stroke-width="1.0"/>
<rect x="84.45" y="252.97" width="5.20" height="5.20" fill="none" stroke="#b48a4c" stroke-width="1.05"/>
<line x1="94.89" y1="256.44" x2="94.89" y2="263.40" stroke="#b48a4c" stroke-width="1.1" stroke-dasharray="2,1"/><line x1="93.39" y1="256.44" x2="96.39" y2="256.44" stroke="#b48a4c" stroke-width="1.0"/><line x1="93.39" y1="263.40" x2="96.39" y2="263.40" stroke="#b48a4c" stroke-width="1.0"/>
<rect x="92.29" y="257.10" width="5.20" height="5.20" fill="none" stroke="#b48a4c" stroke-width="1.05"/>
<line x1="102.72" y1="256.23" x2="102.72" y2="263.21" stroke="#b48a4c" stroke-width="1.1" stroke-dasharray="2,1"/><line x1="101.22" y1="256.23" x2="104.22" y2="256.23" stroke="#b48a4c" stroke-width="1.0"/><line x1="101.22" y1="263.21" x2="104.22" y2="263.21" stroke="#b48a4c" stroke-width="1.0"/>
<rect x="100.12" y="256.90" width="5.20" height="5.20" fill="none" stroke="#b48a4c" stroke-width="1.05"/>
<line x1="110.56" y1="254.83" x2="110.56" y2="261.49" stroke="#b48a4c" stroke-width="1.1" stroke-dasharray="2,1"/><line x1="109.06" y1="254.83" x2="112.06" y2="254.83" stroke="#b48a4c" stroke-width="1.0"/><line x1="109.06" y1="261.49" x2="112.06" y2="261.49" stroke="#b48a4c" stroke-width="1.0"/>
<rect x="107.96" y="255.36" width="5.20" height="5.20" fill="none" stroke="#b48a4c" stroke-width="1.05"/>
<line x1="118.39" y1="258.74" x2="118.39" y2="265.43" stroke="#b48a4c" stroke-width="1.1" stroke-dasharray="2,1"/><line x1="116.89" y1="258.74" x2="119.89" y2="258.74" stroke="#b48a4c" stroke-width="1.0"/><line x1="116.89" y1="265.43" x2="119.89" y2="265.43" stroke="#b48a4c" stroke-width="1.0"/>
<rect x="115.79" y="259.29" width="5.20" height="5.20" fill="none" stroke="#b48a4c" stroke-width="1.05"/>
<rect x="123.63" y="252.45" width="5.20" height="5.20" fill="none" stroke="#b48a4c" stroke-width="1.05"/>
<line x1="134.06" y1="252.17" x2="134.06" y2="258.32" stroke="#b48a4c" stroke-width="1.1" stroke-dasharray="2,1"/><line x1="132.56" y1="252.17" x2="135.56" y2="252.17" stroke="#b48a4c" stroke-width="1.0"/><line x1="132.56" y1="258.32" x2="135.56" y2="258.32" stroke="#b48a4c" stroke-width="1.0"/>
<rect x="131.46" y="252.47" width="5.20" height="5.20" fill="none" stroke="#b48a4c" stroke-width="1.05"/>
<rect x="139.29" y="252.40" width="5.20" height="5.20" fill="none" stroke="#b48a4c" stroke-width="1.05"/>
<rect x="147.13" y="254.46" width="5.20" height="5.20" fill="none" stroke="#b48a4c" stroke-width="1.05"/>
<rect x="154.96" y="248.49" width="5.20" height="5.20" fill="none" stroke="#b48a4c" stroke-width="1.05"/>
<rect x="162.80" y="248.78" width="5.20" height="5.20" fill="none" stroke="#b48a4c" stroke-width="1.05"/>
<rect x="170.63" y="244.32" width="5.20" height="5.20" fill="none" stroke="#b48a4c" stroke-width="1.05"/>
<rect x="178.47" y="243.90" width="5.20" height="5.20" fill="none" stroke="#b48a4c" stroke-width="1.05"/>
<rect x="186.30" y="239.09" width="5.20" height="5.20" fill="none" stroke="#b48a4c" stroke-width="1.05"/>
<rect x="194.14" y="235.23" width="5.20" height="5.20" fill="none" stroke="#b48a4c" stroke-width="1.05"/>
<rect x="201.97" y="231.83" width="5.20" height="5.20" fill="none" stroke="#b48a4c" stroke-width="1.05"/>
<rect x="209.80" y="229.55" width="5.20" height="5.20" fill="none" stroke="#b48a4c" stroke-width="1.05"/>
<rect x="217.64" y="226.70" width="5.20" height="5.20" fill="none" stroke="#b48a4c" stroke-width="1.05"/>
<rect x="225.47" y="220.33" width="5.20" height="5.20" fill="none" stroke="#b48a4c" stroke-width="1.05"/>
<rect x="233.31" y="220.46" width="5.20" height="5.20" fill="none" stroke="#b48a4c" stroke-width="1.05"/>
<rect x="241.14" y="220.73" width="5.20" height="5.20" fill="none" stroke="#b48a4c" stroke-width="1.05"/>
<rect x="248.98" y="210.49" width="5.20" height="5.20" fill="none" stroke="#b48a4c" stroke-width="1.05"/>
<rect x="256.81" y="206.17" width="5.20" height="5.20" fill="none" stroke="#b48a4c" stroke-width="1.05"/>
<rect x="264.64" y="203.32" width="5.20" height="5.20" fill="none" stroke="#b48a4c" stroke-width="1.05"/>
<rect x="272.48" y="199.00" width="5.20" height="5.20" fill="none" stroke="#b48a4c" stroke-width="1.05"/>
<rect x="280.31" y="194.86" width="5.20" height="5.20" fill="none" stroke="#b48a4c" stroke-width="1.05"/>
<rect x="288.15" y="187.53" width="5.20" height="5.20" fill="none" stroke="#b48a4c" stroke-width="1.05"/>
<rect x="295.98" y="181.65" width="5.20" height="5.20" fill="none" stroke="#b48a4c" stroke-width="1.05"/>
<rect x="303.82" y="176.86" width="5.20" height="5.20" fill="none" stroke="#b48a4c" stroke-width="1.05"/>
<rect x="311.65" y="169.83" width="5.20" height="5.20" fill="none" stroke="#b48a4c" stroke-width="1.05"/>
<rect x="319.48" y="164.82" width="5.20" height="5.20" fill="none" stroke="#b48a4c" stroke-width="1.05"/>
<rect x="327.32" y="156.15" width="5.20" height="5.20" fill="none" stroke="#b48a4c" stroke-width="1.05"/>
<rect x="335.15" y="148.59" width="5.20" height="5.20" fill="none" stroke="#b48a4c" stroke-width="1.05"/>
<rect x="342.99" y="138.59" width="5.20" height="5.20" fill="none" stroke="#b48a4c" stroke-width="1.05"/>
<rect x="350.82" y="127.89" width="5.20" height="5.20" fill="none" stroke="#b48a4c" stroke-width="1.05"/>
<rect x="358.66" y="113.99" width="5.20" height="5.20" fill="none" stroke="#b48a4c" stroke-width="1.05"/>
<path d="M55.72,265.47 L63.55,266.57 L71.39,264.65 L79.22,264.04 L87.05,261.89 L94.89,256.15 L102.72,260.55 L110.56,257.77 L118.39,266.94 L126.23,259.15 L134.06,263.43 L141.89,251.95 L149.73,251.22 L157.56,249.09 L165.40,248.87 L173.23,243.65 L181.07,245.29 L188.90,246.39 L196.74,243.04 L204.57,237.38 L212.40,233.73 L220.24,230.66 L228.07,227.35 L235.91,224.02 L243.74,220.44 L251.58,216.51 L259.41,211.40 L267.24,208.02 L275.08,202.17 L282.91,196.85 L290.75,190.00 L298.58,186.57 L306.42,180.99 L314.25,174.18 L322.08,167.87 L329.92,161.00 L337.75,152.65 L345.59,142.93 L353.42,132.23 L361.26,118.33" fill="none" stroke="#a81830" stroke-width="1.1"/>
<line x1="55.72" y1="261.48" x2="55.72" y2="270.12" stroke="#a81830" stroke-width="1.1"/><line x1="54.22" y1="261.48" x2="57.22" y2="261.48" stroke="#a81830" stroke-width="1.0"/><line x1="54.22" y1="270.12" x2="57.22" y2="270.12" stroke="#a81830" stroke-width="1.0"/>
<path d="M55.72,262.47 L58.82,267.97 L52.62,267.97 Z" fill="none" stroke="#a81830" stroke-width="1.1"/>
<line x1="63.55" y1="262.34" x2="63.55" y2="271.58" stroke="#a81830" stroke-width="1.1"/><line x1="62.05" y1="262.34" x2="65.05" y2="262.34" stroke="#a81830" stroke-width="1.0"/><line x1="62.05" y1="271.58" x2="65.05" y2="271.58" stroke="#a81830" stroke-width="1.0"/>
<path d="M63.55,263.57 L66.65,269.07 L60.45,269.07 Z" fill="none" stroke="#a81830" stroke-width="1.1"/>
<line x1="71.39" y1="261.09" x2="71.39" y2="268.73" stroke="#a81830" stroke-width="1.1"/><line x1="69.89" y1="261.09" x2="72.89" y2="261.09" stroke="#a81830" stroke-width="1.0"/><line x1="69.89" y1="268.73" x2="72.89" y2="268.73" stroke="#a81830" stroke-width="1.0"/>
<path d="M71.39,261.65 L74.49,267.15 L68.29,267.15 Z" fill="none" stroke="#a81830" stroke-width="1.1"/>
<line x1="79.22" y1="260.23" x2="79.22" y2="268.45" stroke="#a81830" stroke-width="1.1"/><line x1="77.72" y1="260.23" x2="80.72" y2="260.23" stroke="#a81830" stroke-width="1.0"/><line x1="77.72" y1="268.45" x2="80.72" y2="268.45" stroke="#a81830" stroke-width="1.0"/>
<path d="M79.22,261.04 L82.32,266.54 L76.12,266.54 Z" fill="none" stroke="#a81830" stroke-width="1.1"/>
<line x1="87.05" y1="258.56" x2="87.05" y2="265.67" stroke="#a81830" stroke-width="1.1"/><line x1="85.55" y1="258.56" x2="88.55" y2="258.56" stroke="#a81830" stroke-width="1.0"/><line x1="85.55" y1="265.67" x2="88.55" y2="265.67" stroke="#a81830" stroke-width="1.0"/>
<path d="M87.05,258.89 L90.15,264.39 L83.95,264.39 Z" fill="none" stroke="#a81830" stroke-width="1.1"/>
<line x1="94.89" y1="253.01" x2="94.89" y2="259.68" stroke="#a81830" stroke-width="1.1"/><line x1="93.39" y1="253.01" x2="96.39" y2="253.01" stroke="#a81830" stroke-width="1.0"/><line x1="93.39" y1="259.68" x2="96.39" y2="259.68" stroke="#a81830" stroke-width="1.0"/>
<path d="M94.89,253.15 L97.99,258.65 L91.79,258.65 Z" fill="none" stroke="#a81830" stroke-width="1.1"/>
<line x1="102.72" y1="257.13" x2="102.72" y2="264.44" stroke="#a81830" stroke-width="1.1"/><line x1="101.22" y1="257.13" x2="104.22" y2="257.13" stroke="#a81830" stroke-width="1.0"/><line x1="101.22" y1="264.44" x2="104.22" y2="264.44" stroke="#a81830" stroke-width="1.0"/>
<path d="M102.72,257.55 L105.82,263.05 L99.62,263.05 Z" fill="none" stroke="#a81830" stroke-width="1.1"/>
<line x1="110.56" y1="254.56" x2="110.56" y2="261.41" stroke="#a81830" stroke-width="1.1"/><line x1="109.06" y1="254.56" x2="112.06" y2="254.56" stroke="#a81830" stroke-width="1.0"/><line x1="109.06" y1="261.41" x2="112.06" y2="261.41" stroke="#a81830" stroke-width="1.0"/>
<path d="M110.56,254.77 L113.66,260.27 L107.46,260.27 Z" fill="none" stroke="#a81830" stroke-width="1.1"/>
<line x1="118.39" y1="263.40" x2="118.39" y2="270.99" stroke="#a81830" stroke-width="1.1"/><line x1="116.89" y1="263.40" x2="119.89" y2="263.40" stroke="#a81830" stroke-width="1.0"/><line x1="116.89" y1="270.99" x2="119.89" y2="270.99" stroke="#a81830" stroke-width="1.0"/>
<path d="M118.39,263.94 L121.49,269.44 L115.29,269.44 Z" fill="none" stroke="#a81830" stroke-width="1.1"/>
<line x1="126.23" y1="256.03" x2="126.23" y2="262.66" stroke="#a81830" stroke-width="1.1"/><line x1="124.73" y1="256.03" x2="127.73" y2="256.03" stroke="#a81830" stroke-width="1.0"/><line x1="124.73" y1="262.66" x2="127.73" y2="262.66" stroke="#a81830" stroke-width="1.0"/>
<path d="M126.23,256.15 L129.33,261.65 L123.13,261.65 Z" fill="none" stroke="#a81830" stroke-width="1.1"/>
<line x1="134.06" y1="259.93" x2="134.06" y2="267.42" stroke="#a81830" stroke-width="1.1"/><line x1="132.56" y1="259.93" x2="135.56" y2="259.93" stroke="#a81830" stroke-width="1.0"/><line x1="132.56" y1="267.42" x2="135.56" y2="267.42" stroke="#a81830" stroke-width="1.0"/>
<path d="M134.06,260.43 L137.16,265.93 L130.96,265.93 Z" fill="none" stroke="#a81830" stroke-width="1.1"/>
<path d="M141.89,248.95 L144.99,254.45 L138.79,254.45 Z" fill="none" stroke="#a81830" stroke-width="1.1"/>
<path d="M149.73,248.22 L152.83,253.72 L146.63,253.72 Z" fill="none" stroke="#a81830" stroke-width="1.1"/>
<path d="M157.56,246.09 L160.66,251.59 L154.46,251.59 Z" fill="none" stroke="#a81830" stroke-width="1.1"/>
<path d="M165.40,245.87 L168.50,251.37 L162.30,251.37 Z" fill="none" stroke="#a81830" stroke-width="1.1"/>
<path d="M173.23,240.65 L176.33,246.15 L170.13,246.15 Z" fill="none" stroke="#a81830" stroke-width="1.1"/>
<path d="M181.07,242.29 L184.17,247.79 L177.97,247.79 Z" fill="none" stroke="#a81830" stroke-width="1.1"/>
<path d="M188.90,243.39 L192.00,248.89 L185.80,248.89 Z" fill="none" stroke="#a81830" stroke-width="1.1"/>
<path d="M196.74,240.04 L199.84,245.54 L193.64,245.54 Z" fill="none" stroke="#a81830" stroke-width="1.1"/>
<path d="M204.57,234.38 L207.67,239.88 L201.47,239.88 Z" fill="none" stroke="#a81830" stroke-width="1.1"/>
<path d="M212.40,230.73 L215.50,236.23 L209.30,236.23 Z" fill="none" stroke="#a81830" stroke-width="1.1"/>
<path d="M220.24,227.66 L223.34,233.16 L217.14,233.16 Z" fill="none" stroke="#a81830" stroke-width="1.1"/>
<path d="M228.07,224.35 L231.17,229.85 L224.97,229.85 Z" fill="none" stroke="#a81830" stroke-width="1.1"/>
<path d="M235.91,221.02 L239.01,226.52 L232.81,226.52 Z" fill="none" stroke="#a81830" stroke-width="1.1"/>
<path d="M243.74,217.44 L246.84,222.94 L240.64,222.94 Z" fill="none" stroke="#a81830" stroke-width="1.1"/>
<path d="M251.58,213.51 L254.68,219.01 L248.48,219.01 Z" fill="none" stroke="#a81830" stroke-width="1.1"/>
<path d="M259.41,208.40 L262.51,213.90 L256.31,213.90 Z" fill="none" stroke="#a81830" stroke-width="1.1"/>
<path d="M267.24,205.02 L270.34,210.52 L264.14,210.52 Z" fill="none" stroke="#a81830" stroke-width="1.1"/>
<path d="M275.08,199.17 L278.18,204.67 L271.98,204.67 Z" fill="none" stroke="#a81830" stroke-width="1.1"/>
<path d="M282.91,193.85 L286.01,199.35 L279.81,199.35 Z" fill="none" stroke="#a81830" stroke-width="1.1"/>
<path d="M290.75,187.00 L293.85,192.50 L287.65,192.50 Z" fill="none" stroke="#a81830" stroke-width="1.1"/>
<path d="M298.58,183.57 L301.68,189.07 L295.48,189.07 Z" fill="none" stroke="#a81830" stroke-width="1.1"/>
<path d="M306.42,177.99 L309.52,183.49 L303.32,183.49 Z" fill="none" stroke="#a81830" stroke-width="1.1"/>
<path d="M314.25,171.18 L317.35,176.68 L311.15,176.68 Z" fill="none" stroke="#a81830" stroke-width="1.1"/>
<path d="M322.08,164.87 L325.18,170.37 L318.98,170.37 Z" fill="none" stroke="#a81830" stroke-width="1.1"/>
<path d="M329.92,158.00 L333.02,163.50 L326.82,163.50 Z" fill="none" stroke="#a81830" stroke-width="1.1"/>
<path d="M337.75,149.65 L340.85,155.15 L334.65,155.15 Z" fill="none" stroke="#a81830" stroke-width="1.1"/>
<path d="M345.59,139.93 L348.69,145.43 L342.49,145.43 Z" fill="none" stroke="#a81830" stroke-width="1.1"/>
<path d="M353.42,129.23 L356.52,134.73 L350.32,134.73 Z" fill="none" stroke="#a81830" stroke-width="1.1"/>
<path d="M361.26,115.33 L364.36,120.83 L358.16,120.83 Z" fill="none" stroke="#a81830" stroke-width="1.1"/>
<path d="M55.72,267.69 L63.55,266.57 L71.39,265.48 L79.22,268.36 L87.05,267.60 L94.89,268.44 L102.72,268.14 L110.56,268.95 L118.39,263.19 L126.23,264.74 L134.06,265.20 L141.89,259.16 L149.73,256.36 L157.56,262.27 L165.40,258.34 L173.23,255.84 L181.07,251.64 L188.90,252.14 L196.74,248.37 L204.57,246.84 L212.40,244.25 L220.24,240.73 L228.07,235.45 L235.91,238.91 L243.74,233.55 L251.58,229.88 L259.41,222.55 L267.24,219.80 L275.08,216.75 L282.91,212.76 L290.75,205.24 L298.58,201.68 L306.42,195.85 L314.25,188.34 L322.08,180.00 L329.92,170.46 L337.75,160.75 L345.59,147.67 L353.42,132.23 L361.26,105.50" fill="none" stroke="#ff7a2a" stroke-width="1.1" stroke-dasharray="4,2,1,2"/>
<line x1="55.72" y1="263.55" x2="55.72" y2="272.55" stroke="#ff7a2a" stroke-width="1.1" stroke-dasharray="2,1"/><line x1="54.22" y1="263.55" x2="57.22" y2="263.55" stroke="#ff7a2a" stroke-width="1.0"/><line x1="54.22" y1="272.55" x2="57.22" y2="272.55" stroke="#ff7a2a" stroke-width="1.0"/>
<rect x="53.32" y="265.29" width="4.80" height="4.80" fill="#ff7a2a"/>
<line x1="63.55" y1="262.32" x2="63.55" y2="271.60" stroke="#ff7a2a" stroke-width="1.1" stroke-dasharray="2,1"/><line x1="62.05" y1="262.32" x2="65.05" y2="262.32" stroke="#ff7a2a" stroke-width="1.0"/><line x1="62.05" y1="271.60" x2="65.05" y2="271.60" stroke="#ff7a2a" stroke-width="1.0"/>
<rect x="61.15" y="264.17" width="4.80" height="4.80" fill="#ff7a2a"/>
<line x1="71.39" y1="261.84" x2="71.39" y2="269.66" stroke="#ff7a2a" stroke-width="1.1" stroke-dasharray="2,1"/><line x1="69.89" y1="261.84" x2="72.89" y2="261.84" stroke="#ff7a2a" stroke-width="1.0"/><line x1="69.89" y1="269.66" x2="72.89" y2="269.66" stroke="#ff7a2a" stroke-width="1.0"/>
<rect x="68.99" y="263.08" width="4.80" height="4.80" fill="#ff7a2a"/>
<line x1="79.22" y1="264.22" x2="79.22" y2="273.22" stroke="#ff7a2a" stroke-width="1.1" stroke-dasharray="2,1"/><line x1="77.72" y1="264.22" x2="80.72" y2="264.22" stroke="#ff7a2a" stroke-width="1.0"/><line x1="77.72" y1="273.22" x2="80.72" y2="273.22" stroke="#ff7a2a" stroke-width="1.0"/>
<rect x="76.82" y="265.96" width="4.80" height="4.80" fill="#ff7a2a"/>
<line x1="87.05" y1="263.88" x2="87.05" y2="271.90" stroke="#ff7a2a" stroke-width="1.1" stroke-dasharray="2,1"/><line x1="85.55" y1="263.88" x2="88.55" y2="263.88" stroke="#ff7a2a" stroke-width="1.0"/><line x1="85.55" y1="271.90" x2="88.55" y2="271.90" stroke="#ff7a2a" stroke-width="1.0"/>
<rect x="84.65" y="265.20" width="4.80" height="4.80" fill="#ff7a2a"/>
<line x1="94.89" y1="264.50" x2="94.89" y2="273.02" stroke="#ff7a2a" stroke-width="1.1" stroke-dasharray="2,1"/><line x1="93.39" y1="264.50" x2="96.39" y2="264.50" stroke="#ff7a2a" stroke-width="1.0"/><line x1="93.39" y1="273.02" x2="96.39" y2="273.02" stroke="#ff7a2a" stroke-width="1.0"/>
<rect x="92.49" y="266.04" width="4.80" height="4.80" fill="#ff7a2a"/>
<line x1="102.72" y1="264.16" x2="102.72" y2="272.77" stroke="#ff7a2a" stroke-width="1.1" stroke-dasharray="2,1"/><line x1="101.22" y1="264.16" x2="104.22" y2="264.16" stroke="#ff7a2a" stroke-width="1.0"/><line x1="101.22" y1="272.77" x2="104.22" y2="272.77" stroke="#ff7a2a" stroke-width="1.0"/>
<rect x="100.32" y="265.74" width="4.80" height="4.80" fill="#ff7a2a"/>
<line x1="110.56" y1="264.96" x2="110.56" y2="273.61" stroke="#ff7a2a" stroke-width="1.1" stroke-dasharray="2,1"/><line x1="109.06" y1="264.96" x2="112.06" y2="264.96" stroke="#ff7a2a" stroke-width="1.0"/><line x1="109.06" y1="273.61" x2="112.06" y2="273.61" stroke="#ff7a2a" stroke-width="1.0"/>
<rect x="108.16" y="266.55" width="4.80" height="4.80" fill="#ff7a2a"/>
<line x1="118.39" y1="259.76" x2="118.39" y2="267.10" stroke="#ff7a2a" stroke-width="1.1" stroke-dasharray="2,1"/><line x1="116.89" y1="259.76" x2="119.89" y2="259.76" stroke="#ff7a2a" stroke-width="1.0"/><line x1="116.89" y1="267.10" x2="119.89" y2="267.10" stroke="#ff7a2a" stroke-width="1.0"/>
<rect x="115.99" y="260.79" width="4.80" height="4.80" fill="#ff7a2a"/>
<line x1="126.23" y1="261.18" x2="126.23" y2="268.81" stroke="#ff7a2a" stroke-width="1.1" stroke-dasharray="2,1"/><line x1="124.73" y1="261.18" x2="127.73" y2="261.18" stroke="#ff7a2a" stroke-width="1.0"/><line x1="124.73" y1="268.81" x2="127.73" y2="268.81" stroke="#ff7a2a" stroke-width="1.0"/>
<rect x="123.83" y="262.34" width="4.80" height="4.80" fill="#ff7a2a"/>
<line x1="134.06" y1="261.46" x2="134.06" y2="269.53" stroke="#ff7a2a" stroke-width="1.1" stroke-dasharray="2,1"/><line x1="132.56" y1="261.46" x2="135.56" y2="261.46" stroke="#ff7a2a" stroke-width="1.0"/><line x1="132.56" y1="269.53" x2="135.56" y2="269.53" stroke="#ff7a2a" stroke-width="1.0"/>
<rect x="131.66" y="262.80" width="4.80" height="4.80" fill="#ff7a2a"/>
<line x1="141.89" y1="255.93" x2="141.89" y2="262.81" stroke="#ff7a2a" stroke-width="1.1" stroke-dasharray="2,1"/><line x1="140.39" y1="255.93" x2="143.39" y2="255.93" stroke="#ff7a2a" stroke-width="1.0"/><line x1="140.39" y1="262.81" x2="143.39" y2="262.81" stroke="#ff7a2a" stroke-width="1.0"/>
<rect x="139.49" y="256.76" width="4.80" height="4.80" fill="#ff7a2a"/>
<line x1="149.73" y1="253.51" x2="149.73" y2="259.55" stroke="#ff7a2a" stroke-width="1.1" stroke-dasharray="2,1"/><line x1="148.23" y1="253.51" x2="151.23" y2="253.51" stroke="#ff7a2a" stroke-width="1.0"/><line x1="148.23" y1="259.55" x2="151.23" y2="259.55" stroke="#ff7a2a" stroke-width="1.0"/>
<rect x="147.33" y="253.96" width="4.80" height="4.80" fill="#ff7a2a"/>
<line x1="157.56" y1="258.67" x2="157.56" y2="266.40" stroke="#ff7a2a" stroke-width="1.1" stroke-dasharray="2,1"/><line x1="156.06" y1="258.67" x2="159.06" y2="258.67" stroke="#ff7a2a" stroke-width="1.0"/><line x1="156.06" y1="266.40" x2="159.06" y2="266.40" stroke="#ff7a2a" stroke-width="1.0"/>
<rect x="155.16" y="259.87" width="4.80" height="4.80" fill="#ff7a2a"/>
<line x1="165.40" y1="255.26" x2="165.40" y2="261.79" stroke="#ff7a2a" stroke-width="1.1" stroke-dasharray="2,1"/><line x1="163.90" y1="255.26" x2="166.90" y2="255.26" stroke="#ff7a2a" stroke-width="1.0"/><line x1="163.90" y1="261.79" x2="166.90" y2="261.79" stroke="#ff7a2a" stroke-width="1.0"/>
<rect x="163.00" y="255.94" width="4.80" height="4.80" fill="#ff7a2a"/>
<line x1="173.23" y1="252.84" x2="173.23" y2="259.21" stroke="#ff7a2a" stroke-width="1.1" stroke-dasharray="2,1"/><line x1="171.73" y1="252.84" x2="174.73" y2="252.84" stroke="#ff7a2a" stroke-width="1.0"/><line x1="171.73" y1="259.21" x2="174.73" y2="259.21" stroke="#ff7a2a" stroke-width="1.0"/>
<rect x="170.83" y="253.44" width="4.80" height="4.80" fill="#ff7a2a"/>
<rect x="178.67" y="249.24" width="4.80" height="4.80" fill="#ff7a2a"/>
<rect x="186.50" y="249.74" width="4.80" height="4.80" fill="#ff7a2a"/>
<rect x="194.34" y="245.97" width="4.80" height="4.80" fill="#ff7a2a"/>
<rect x="202.17" y="244.44" width="4.80" height="4.80" fill="#ff7a2a"/>
<rect x="210.00" y="241.85" width="4.80" height="4.80" fill="#ff7a2a"/>
<rect x="217.84" y="238.33" width="4.80" height="4.80" fill="#ff7a2a"/>
<rect x="225.67" y="233.05" width="4.80" height="4.80" fill="#ff7a2a"/>
<rect x="233.51" y="236.51" width="4.80" height="4.80" fill="#ff7a2a"/>
<rect x="241.34" y="231.15" width="4.80" height="4.80" fill="#ff7a2a"/>
<rect x="249.18" y="227.48" width="4.80" height="4.80" fill="#ff7a2a"/>
<rect x="257.01" y="220.15" width="4.80" height="4.80" fill="#ff7a2a"/>
<rect x="264.84" y="217.40" width="4.80" height="4.80" fill="#ff7a2a"/>
<rect x="272.68" y="214.35" width="4.80" height="4.80" fill="#ff7a2a"/>
<rect x="280.51" y="210.36" width="4.80" height="4.80" fill="#ff7a2a"/>
<rect x="288.35" y="202.84" width="4.80" height="4.80" fill="#ff7a2a"/>
<rect x="296.18" y="199.28" width="4.80" height="4.80" fill="#ff7a2a"/>
<rect x="304.02" y="193.45" width="4.80" height="4.80" fill="#ff7a2a"/>
<rect x="311.85" y="185.94" width="4.80" height="4.80" fill="#ff7a2a"/>
<rect x="319.68" y="177.60" width="4.80" height="4.80" fill="#ff7a2a"/>
<rect x="327.52" y="168.06" width="4.80" height="4.80" fill="#ff7a2a"/>
<rect x="335.35" y="158.35" width="4.80" height="4.80" fill="#ff7a2a"/>
<rect x="343.19" y="145.27" width="4.80" height="4.80" fill="#ff7a2a"/>
<rect x="351.02" y="129.83" width="4.80" height="4.80" fill="#ff7a2a"/>
<rect x="358.86" y="103.10" width="4.80" height="4.80" fill="#ff7a2a"/>
<path d="M55.72,275.15 L63.55,269.34 L71.39,263.89 L79.22,257.18 L87.05,265.64 L94.89,263.45 L102.72,258.29 L110.56,260.00 L118.39,258.52 L126.23,253.56 L134.06,244.37 L141.89,247.47 L149.73,244.46 L157.56,239.56 L165.40,243.66 L173.23,231.87 L181.07,234.53 L188.90,232.99 L196.74,228.88 L204.57,227.50 L212.40,222.27 L220.24,217.77 L228.07,216.42 L235.91,211.25 L243.74,209.26 L251.58,206.67 L259.41,198.67 L267.24,196.58 L275.08,191.25 L282.91,186.47 L290.75,180.95 L298.58,177.80 L306.42,173.30 L314.25,166.37 L322.08,158.82 L329.92,152.24 L337.75,145.92 L345.59,135.50 L353.42,124.39 L361.26,111.19" fill="none" stroke="#0000ff" stroke-width="1.1"/>
<line x1="55.72" y1="270.47" x2="55.72" y2="280.78" stroke="#0000ff" stroke-width="1.1"/><line x1="54.22" y1="270.47" x2="57.22" y2="270.47" stroke="#0000ff" stroke-width="1.0"/><line x1="54.22" y1="280.78" x2="57.22" y2="280.78" stroke="#0000ff" stroke-width="1.0"/>
<path d="M55.72,272.15 L58.72,277.75 L52.72,277.75 Z" fill="#0000ff"/>
<line x1="63.55" y1="264.88" x2="63.55" y2="274.64" stroke="#0000ff" stroke-width="1.1"/><line x1="62.05" y1="264.88" x2="65.05" y2="264.88" stroke="#0000ff" stroke-width="1.0"/><line x1="62.05" y1="274.64" x2="65.05" y2="274.64" stroke="#0000ff" stroke-width="1.0"/>
<path d="M63.55,266.34 L66.55,271.94 L60.55,271.94 Z" fill="#0000ff"/>
<line x1="71.39" y1="260.35" x2="71.39" y2="267.94" stroke="#0000ff" stroke-width="1.1"/><line x1="69.89" y1="260.35" x2="72.89" y2="260.35" stroke="#0000ff" stroke-width="1.0"/><line x1="69.89" y1="267.94" x2="72.89" y2="267.94" stroke="#0000ff" stroke-width="1.0"/>
<path d="M71.39,260.89 L74.39,266.49 L68.39,266.49 Z" fill="#0000ff"/>
<line x1="79.22" y1="253.75" x2="79.22" y2="261.09" stroke="#0000ff" stroke-width="1.1"/><line x1="77.72" y1="253.75" x2="80.72" y2="253.75" stroke="#0000ff" stroke-width="1.0"/><line x1="77.72" y1="261.09" x2="80.72" y2="261.09" stroke="#0000ff" stroke-width="1.0"/>
<path d="M79.22,254.18 L82.22,259.78 L76.22,259.78 Z" fill="#0000ff"/>
<line x1="87.05" y1="262.03" x2="87.05" y2="269.77" stroke="#0000ff" stroke-width="1.1"/><line x1="85.55" y1="262.03" x2="88.55" y2="262.03" stroke="#0000ff" stroke-width="1.0"/><line x1="85.55" y1="269.77" x2="88.55" y2="269.77" stroke="#0000ff" stroke-width="1.0"/>
<path d="M87.05,262.64 L90.05,268.24 L84.05,268.24 Z" fill="#0000ff"/>
<line x1="94.89" y1="259.83" x2="94.89" y2="267.61" stroke="#0000ff" stroke-width="1.1"/><line x1="93.39" y1="259.83" x2="96.39" y2="259.83" stroke="#0000ff" stroke-width="1.0"/><line x1="93.39" y1="267.61" x2="96.39" y2="267.61" stroke="#0000ff" stroke-width="1.0"/>
<path d="M94.89,260.45 L97.89,266.05 L91.89,266.05 Z" fill="#0000ff"/>
<line x1="102.72" y1="254.93" x2="102.72" y2="262.12" stroke="#0000ff" stroke-width="1.1"/><line x1="101.22" y1="254.93" x2="104.22" y2="254.93" stroke="#0000ff" stroke-width="1.0"/><line x1="101.22" y1="262.12" x2="104.22" y2="262.12" stroke="#0000ff" stroke-width="1.0"/>
<path d="M102.72,255.29 L105.72,260.89 L99.72,260.89 Z" fill="#0000ff"/>
<line x1="110.56" y1="256.57" x2="110.56" y2="263.91" stroke="#0000ff" stroke-width="1.1"/><line x1="109.06" y1="256.57" x2="112.06" y2="256.57" stroke="#0000ff" stroke-width="1.0"/><line x1="109.06" y1="263.91" x2="112.06" y2="263.91" stroke="#0000ff" stroke-width="1.0"/>
<path d="M110.56,257.00 L113.56,262.60 L107.56,262.60 Z" fill="#0000ff"/>
<line x1="118.39" y1="255.35" x2="118.39" y2="262.10" stroke="#0000ff" stroke-width="1.1"/><line x1="116.89" y1="255.35" x2="119.89" y2="255.35" stroke="#0000ff" stroke-width="1.0"/><line x1="116.89" y1="262.10" x2="119.89" y2="262.10" stroke="#0000ff" stroke-width="1.0"/>
<path d="M118.39,255.52 L121.39,261.12 L115.39,261.12 Z" fill="#0000ff"/>
<line x1="126.23" y1="250.61" x2="126.23" y2="256.85" stroke="#0000ff" stroke-width="1.1"/><line x1="124.73" y1="250.61" x2="127.73" y2="250.61" stroke="#0000ff" stroke-width="1.0"/><line x1="124.73" y1="256.85" x2="127.73" y2="256.85" stroke="#0000ff" stroke-width="1.0"/>
<path d="M126.23,250.56 L129.23,256.16 L123.23,256.16 Z" fill="#0000ff"/>
<path d="M134.06,241.37 L137.06,246.97 L131.06,246.97 Z" fill="#0000ff"/>
<path d="M141.89,244.47 L144.89,250.07 L138.89,250.07 Z" fill="#0000ff"/>
<path d="M149.73,241.46 L152.73,247.06 L146.73,247.06 Z" fill="#0000ff"/>
<path d="M157.56,236.56 L160.56,242.16 L154.56,242.16 Z" fill="#0000ff"/>
<path d="M165.40,240.66 L168.40,246.26 L162.40,246.26 Z" fill="#0000ff"/>
<path d="M173.23,228.87 L176.23,234.47 L170.23,234.47 Z" fill="#0000ff"/>
<path d="M181.07,231.53 L184.07,237.13 L178.07,237.13 Z" fill="#0000ff"/>
<path d="M188.90,229.99 L191.90,235.59 L185.90,235.59 Z" fill="#0000ff"/>
<path d="M196.74,225.88 L199.74,231.48 L193.74,231.48 Z" fill="#0000ff"/>
<path d="M204.57,224.50 L207.57,230.10 L201.57,230.10 Z" fill="#0000ff"/>
<path d="M212.40,219.27 L215.40,224.87 L209.40,224.87 Z" fill="#0000ff"/>
<path d="M220.24,214.77 L223.24,220.37 L217.24,220.37 Z" fill="#0000ff"/>
<path d="M228.07,213.42 L231.07,219.02 L225.07,219.02 Z" fill="#0000ff"/>
<path d="M235.91,208.25 L238.91,213.85 L232.91,213.85 Z" fill="#0000ff"/>
<path d="M243.74,206.26 L246.74,211.86 L240.74,211.86 Z" fill="#0000ff"/>
<path d="M251.58,203.67 L254.58,209.27 L248.58,209.27 Z" fill="#0000ff"/>
<path d="M259.41,195.67 L262.41,201.27 L256.41,201.27 Z" fill="#0000ff"/>
<path d="M267.24,193.58 L270.24,199.18 L264.24,199.18 Z" fill="#0000ff"/>
<path d="M275.08,188.25 L278.08,193.85 L272.08,193.85 Z" fill="#0000ff"/>
<path d="M282.91,183.47 L285.91,189.07 L279.91,189.07 Z" fill="#0000ff"/>
<path d="M290.75,177.95 L293.75,183.55 L287.75,183.55 Z" fill="#0000ff"/>
<path d="M298.58,174.80 L301.58,180.40 L295.58,180.40 Z" fill="#0000ff"/>
<path d="M306.42,170.30 L309.42,175.90 L303.42,175.90 Z" fill="#0000ff"/>
<path d="M314.25,163.37 L317.25,168.97 L311.25,168.97 Z" fill="#0000ff"/>
<path d="M322.08,155.82 L325.08,161.42 L319.08,161.42 Z" fill="#0000ff"/>
<path d="M329.92,149.24 L332.92,154.84 L326.92,154.84 Z" fill="#0000ff"/>
<path d="M337.75,142.92 L340.75,148.52 L334.75,148.52 Z" fill="#0000ff"/>
<path d="M345.59,132.50 L348.59,138.10 L342.59,138.10 Z" fill="#0000ff"/>
<path d="M353.42,121.39 L356.42,126.99 L350.42,126.99 Z" fill="#0000ff"/>
<path d="M361.26,108.19 L364.26,113.79 L358.26,113.79 Z" fill="#0000ff"/>
<line x1="51.80" y1="17.40" x2="51.80" y2="25.90" stroke="#000" stroke-width="0.9"/>
<line x1="51.80" y1="317.30" x2="51.80" y2="308.80" stroke="#000" stroke-width="0.9"/>
<line x1="51.80" y1="317.30" x2="51.80" y2="322.30" stroke="#000" stroke-width="0.9"/>
<line x1="51.80" y1="477.85" x2="51.80" y2="472.65" stroke="#000" stroke-width="0.9"/>
<line x1="61.77" y1="17.40" x2="61.77" y2="19.80" stroke="#000" stroke-width="0.9"/>
<line x1="61.77" y1="317.30" x2="61.77" y2="314.90" stroke="#000" stroke-width="0.9"/>
<line x1="61.77" y1="317.30" x2="61.77" y2="319.10" stroke="#000" stroke-width="0.9"/>
<line x1="61.77" y1="477.85" x2="61.77" y2="476.25" stroke="#000" stroke-width="0.9"/>
<line x1="71.75" y1="17.40" x2="71.75" y2="21.60" stroke="#000" stroke-width="0.9"/>
<line x1="71.75" y1="317.30" x2="71.75" y2="313.10" stroke="#000" stroke-width="0.9"/>
<line x1="71.75" y1="317.30" x2="71.75" y2="319.60" stroke="#000" stroke-width="0.9"/>
<line x1="71.75" y1="477.85" x2="71.75" y2="474.85" stroke="#000" stroke-width="0.9"/>
<line x1="81.72" y1="17.40" x2="81.72" y2="19.80" stroke="#000" stroke-width="0.9"/>
<line x1="81.72" y1="317.30" x2="81.72" y2="314.90" stroke="#000" stroke-width="0.9"/>
<line x1="81.72" y1="317.30" x2="81.72" y2="319.10" stroke="#000" stroke-width="0.9"/>
<line x1="81.72" y1="477.85" x2="81.72" y2="476.25" stroke="#000" stroke-width="0.9"/>
<line x1="91.70" y1="17.40" x2="91.70" y2="21.60" stroke="#000" stroke-width="0.9"/>
<line x1="91.70" y1="317.30" x2="91.70" y2="313.10" stroke="#000" stroke-width="0.9"/>
<line x1="91.70" y1="317.30" x2="91.70" y2="319.60" stroke="#000" stroke-width="0.9"/>
<line x1="91.70" y1="477.85" x2="91.70" y2="474.85" stroke="#000" stroke-width="0.9"/>
<line x1="101.67" y1="17.40" x2="101.67" y2="19.80" stroke="#000" stroke-width="0.9"/>
<line x1="101.67" y1="317.30" x2="101.67" y2="314.90" stroke="#000" stroke-width="0.9"/>
<line x1="101.67" y1="317.30" x2="101.67" y2="319.10" stroke="#000" stroke-width="0.9"/>
<line x1="101.67" y1="477.85" x2="101.67" y2="476.25" stroke="#000" stroke-width="0.9"/>
<line x1="111.65" y1="17.40" x2="111.65" y2="21.60" stroke="#000" stroke-width="0.9"/>
<line x1="111.65" y1="317.30" x2="111.65" y2="313.10" stroke="#000" stroke-width="0.9"/>
<line x1="111.65" y1="317.30" x2="111.65" y2="319.60" stroke="#000" stroke-width="0.9"/>
<line x1="111.65" y1="477.85" x2="111.65" y2="474.85" stroke="#000" stroke-width="0.9"/>
<line x1="121.62" y1="17.40" x2="121.62" y2="19.80" stroke="#000" stroke-width="0.9"/>
<line x1="121.62" y1="317.30" x2="121.62" y2="314.90" stroke="#000" stroke-width="0.9"/>
<line x1="121.62" y1="317.30" x2="121.62" y2="319.10" stroke="#000" stroke-width="0.9"/>
<line x1="121.62" y1="477.85" x2="121.62" y2="476.25" stroke="#000" stroke-width="0.9"/>
<line x1="131.60" y1="17.40" x2="131.60" y2="21.60" stroke="#000" stroke-width="0.9"/>
<line x1="131.60" y1="317.30" x2="131.60" y2="313.10" stroke="#000" stroke-width="0.9"/>
<line x1="131.60" y1="317.30" x2="131.60" y2="319.60" stroke="#000" stroke-width="0.9"/>
<line x1="131.60" y1="477.85" x2="131.60" y2="474.85" stroke="#000" stroke-width="0.9"/>
<line x1="141.57" y1="17.40" x2="141.57" y2="19.80" stroke="#000" stroke-width="0.9"/>
<line x1="141.57" y1="317.30" x2="141.57" y2="314.90" stroke="#000" stroke-width="0.9"/>
<line x1="141.57" y1="317.30" x2="141.57" y2="319.10" stroke="#000" stroke-width="0.9"/>
<line x1="141.57" y1="477.85" x2="141.57" y2="476.25" stroke="#000" stroke-width="0.9"/>
<line x1="151.55" y1="17.40" x2="151.55" y2="25.90" stroke="#000" stroke-width="0.9"/>
<line x1="151.55" y1="317.30" x2="151.55" y2="308.80" stroke="#000" stroke-width="0.9"/>
<line x1="151.55" y1="317.30" x2="151.55" y2="322.30" stroke="#000" stroke-width="0.9"/>
<line x1="151.55" y1="477.85" x2="151.55" y2="472.65" stroke="#000" stroke-width="0.9"/>
<line x1="161.53" y1="17.40" x2="161.53" y2="19.80" stroke="#000" stroke-width="0.9"/>
<line x1="161.53" y1="317.30" x2="161.53" y2="314.90" stroke="#000" stroke-width="0.9"/>
<line x1="161.53" y1="317.30" x2="161.53" y2="319.10" stroke="#000" stroke-width="0.9"/>
<line x1="161.53" y1="477.85" x2="161.53" y2="476.25" stroke="#000" stroke-width="0.9"/>
<line x1="171.50" y1="17.40" x2="171.50" y2="21.60" stroke="#000" stroke-width="0.9"/>
<line x1="171.50" y1="317.30" x2="171.50" y2="313.10" stroke="#000" stroke-width="0.9"/>
<line x1="171.50" y1="317.30" x2="171.50" y2="319.60" stroke="#000" stroke-width="0.9"/>
<line x1="171.50" y1="477.85" x2="171.50" y2="474.85" stroke="#000" stroke-width="0.9"/>
<line x1="181.48" y1="17.40" x2="181.48" y2="19.80" stroke="#000" stroke-width="0.9"/>
<line x1="181.48" y1="317.30" x2="181.48" y2="314.90" stroke="#000" stroke-width="0.9"/>
<line x1="181.48" y1="317.30" x2="181.48" y2="319.10" stroke="#000" stroke-width="0.9"/>
<line x1="181.48" y1="477.85" x2="181.48" y2="476.25" stroke="#000" stroke-width="0.9"/>
<line x1="191.45" y1="17.40" x2="191.45" y2="21.60" stroke="#000" stroke-width="0.9"/>
<line x1="191.45" y1="317.30" x2="191.45" y2="313.10" stroke="#000" stroke-width="0.9"/>
<line x1="191.45" y1="317.30" x2="191.45" y2="319.60" stroke="#000" stroke-width="0.9"/>
<line x1="191.45" y1="477.85" x2="191.45" y2="474.85" stroke="#000" stroke-width="0.9"/>
<line x1="201.43" y1="17.40" x2="201.43" y2="19.80" stroke="#000" stroke-width="0.9"/>
<line x1="201.43" y1="317.30" x2="201.43" y2="314.90" stroke="#000" stroke-width="0.9"/>
<line x1="201.43" y1="317.30" x2="201.43" y2="319.10" stroke="#000" stroke-width="0.9"/>
<line x1="201.43" y1="477.85" x2="201.43" y2="476.25" stroke="#000" stroke-width="0.9"/>
<line x1="211.40" y1="17.40" x2="211.40" y2="21.60" stroke="#000" stroke-width="0.9"/>
<line x1="211.40" y1="317.30" x2="211.40" y2="313.10" stroke="#000" stroke-width="0.9"/>
<line x1="211.40" y1="317.30" x2="211.40" y2="319.60" stroke="#000" stroke-width="0.9"/>
<line x1="211.40" y1="477.85" x2="211.40" y2="474.85" stroke="#000" stroke-width="0.9"/>
<line x1="221.38" y1="17.40" x2="221.38" y2="19.80" stroke="#000" stroke-width="0.9"/>
<line x1="221.38" y1="317.30" x2="221.38" y2="314.90" stroke="#000" stroke-width="0.9"/>
<line x1="221.38" y1="317.30" x2="221.38" y2="319.10" stroke="#000" stroke-width="0.9"/>
<line x1="221.38" y1="477.85" x2="221.38" y2="476.25" stroke="#000" stroke-width="0.9"/>
<line x1="231.35" y1="17.40" x2="231.35" y2="21.60" stroke="#000" stroke-width="0.9"/>
<line x1="231.35" y1="317.30" x2="231.35" y2="313.10" stroke="#000" stroke-width="0.9"/>
<line x1="231.35" y1="317.30" x2="231.35" y2="319.60" stroke="#000" stroke-width="0.9"/>
<line x1="231.35" y1="477.85" x2="231.35" y2="474.85" stroke="#000" stroke-width="0.9"/>
<line x1="241.32" y1="17.40" x2="241.32" y2="19.80" stroke="#000" stroke-width="0.9"/>
<line x1="241.32" y1="317.30" x2="241.32" y2="314.90" stroke="#000" stroke-width="0.9"/>
<line x1="241.32" y1="317.30" x2="241.32" y2="319.10" stroke="#000" stroke-width="0.9"/>
<line x1="241.32" y1="477.85" x2="241.32" y2="476.25" stroke="#000" stroke-width="0.9"/>
<line x1="251.30" y1="17.40" x2="251.30" y2="25.90" stroke="#000" stroke-width="0.9"/>
<line x1="251.30" y1="317.30" x2="251.30" y2="308.80" stroke="#000" stroke-width="0.9"/>
<line x1="251.30" y1="317.30" x2="251.30" y2="322.30" stroke="#000" stroke-width="0.9"/>
<line x1="251.30" y1="477.85" x2="251.30" y2="472.65" stroke="#000" stroke-width="0.9"/>
<line x1="261.28" y1="17.40" x2="261.28" y2="19.80" stroke="#000" stroke-width="0.9"/>
<line x1="261.28" y1="317.30" x2="261.28" y2="314.90" stroke="#000" stroke-width="0.9"/>
<line x1="261.28" y1="317.30" x2="261.28" y2="319.10" stroke="#000" stroke-width="0.9"/>
<line x1="261.28" y1="477.85" x2="261.28" y2="476.25" stroke="#000" stroke-width="0.9"/>
<line x1="271.25" y1="17.40" x2="271.25" y2="21.60" stroke="#000" stroke-width="0.9"/>
<line x1="271.25" y1="317.30" x2="271.25" y2="313.10" stroke="#000" stroke-width="0.9"/>
<line x1="271.25" y1="317.30" x2="271.25" y2="319.60" stroke="#000" stroke-width="0.9"/>
<line x1="271.25" y1="477.85" x2="271.25" y2="474.85" stroke="#000" stroke-width="0.9"/>
<line x1="281.23" y1="17.40" x2="281.23" y2="19.80" stroke="#000" stroke-width="0.9"/>
<line x1="281.23" y1="317.30" x2="281.23" y2="314.90" stroke="#000" stroke-width="0.9"/>
<line x1="281.23" y1="317.30" x2="281.23" y2="319.10" stroke="#000" stroke-width="0.9"/>
<line x1="281.23" y1="477.85" x2="281.23" y2="476.25" stroke="#000" stroke-width="0.9"/>
<line x1="291.20" y1="17.40" x2="291.20" y2="21.60" stroke="#000" stroke-width="0.9"/>
<line x1="291.20" y1="317.30" x2="291.20" y2="313.10" stroke="#000" stroke-width="0.9"/>
<line x1="291.20" y1="317.30" x2="291.20" y2="319.60" stroke="#000" stroke-width="0.9"/>
<line x1="291.20" y1="477.85" x2="291.20" y2="474.85" stroke="#000" stroke-width="0.9"/>
<line x1="301.18" y1="17.40" x2="301.18" y2="19.80" stroke="#000" stroke-width="0.9"/>
<line x1="301.18" y1="317.30" x2="301.18" y2="314.90" stroke="#000" stroke-width="0.9"/>
<line x1="301.18" y1="317.30" x2="301.18" y2="319.10" stroke="#000" stroke-width="0.9"/>
<line x1="301.18" y1="477.85" x2="301.18" y2="476.25" stroke="#000" stroke-width="0.9"/>
<line x1="311.15" y1="17.40" x2="311.15" y2="21.60" stroke="#000" stroke-width="0.9"/>
<line x1="311.15" y1="317.30" x2="311.15" y2="313.10" stroke="#000" stroke-width="0.9"/>
<line x1="311.15" y1="317.30" x2="311.15" y2="319.60" stroke="#000" stroke-width="0.9"/>
<line x1="311.15" y1="477.85" x2="311.15" y2="474.85" stroke="#000" stroke-width="0.9"/>
<line x1="321.13" y1="17.40" x2="321.13" y2="19.80" stroke="#000" stroke-width="0.9"/>
<line x1="321.13" y1="317.30" x2="321.13" y2="314.90" stroke="#000" stroke-width="0.9"/>
<line x1="321.13" y1="317.30" x2="321.13" y2="319.10" stroke="#000" stroke-width="0.9"/>
<line x1="321.13" y1="477.85" x2="321.13" y2="476.25" stroke="#000" stroke-width="0.9"/>
<line x1="331.10" y1="17.40" x2="331.10" y2="21.60" stroke="#000" stroke-width="0.9"/>
<line x1="331.10" y1="317.30" x2="331.10" y2="313.10" stroke="#000" stroke-width="0.9"/>
<line x1="331.10" y1="317.30" x2="331.10" y2="319.60" stroke="#000" stroke-width="0.9"/>
<line x1="331.10" y1="477.85" x2="331.10" y2="474.85" stroke="#000" stroke-width="0.9"/>
<line x1="341.08" y1="17.40" x2="341.08" y2="19.80" stroke="#000" stroke-width="0.9"/>
<line x1="341.08" y1="317.30" x2="341.08" y2="314.90" stroke="#000" stroke-width="0.9"/>
<line x1="341.08" y1="317.30" x2="341.08" y2="319.10" stroke="#000" stroke-width="0.9"/>
<line x1="341.08" y1="477.85" x2="341.08" y2="476.25" stroke="#000" stroke-width="0.9"/>
<line x1="351.05" y1="17.40" x2="351.05" y2="25.90" stroke="#000" stroke-width="0.9"/>
<line x1="351.05" y1="317.30" x2="351.05" y2="308.80" stroke="#000" stroke-width="0.9"/>
<line x1="351.05" y1="317.30" x2="351.05" y2="322.30" stroke="#000" stroke-width="0.9"/>
<line x1="351.05" y1="477.85" x2="351.05" y2="472.65" stroke="#000" stroke-width="0.9"/>
<line x1="361.03" y1="17.40" x2="361.03" y2="19.80" stroke="#000" stroke-width="0.9"/>
<line x1="361.03" y1="317.30" x2="361.03" y2="314.90" stroke="#000" stroke-width="0.9"/>
<line x1="361.03" y1="317.30" x2="361.03" y2="319.10" stroke="#000" stroke-width="0.9"/>
<line x1="361.03" y1="477.85" x2="361.03" y2="476.25" stroke="#000" stroke-width="0.9"/>
<line x1="371.00" y1="17.40" x2="371.00" y2="21.60" stroke="#000" stroke-width="0.9"/>
<line x1="371.00" y1="317.30" x2="371.00" y2="313.10" stroke="#000" stroke-width="0.9"/>
<line x1="371.00" y1="317.30" x2="371.00" y2="319.60" stroke="#000" stroke-width="0.9"/>
<line x1="371.00" y1="477.85" x2="371.00" y2="474.85" stroke="#000" stroke-width="0.9"/>
<line x1="45.45" y1="303.64" x2="51.25" y2="303.64" stroke="#000" stroke-width="0.9"/>
<line x1="371.30" y1="303.64" x2="365.50" y2="303.64" stroke="#000" stroke-width="0.9"/>
<line x1="45.45" y1="292.34" x2="51.25" y2="292.34" stroke="#000" stroke-width="0.9"/>
<line x1="371.30" y1="292.34" x2="365.50" y2="292.34" stroke="#000" stroke-width="0.9"/>
<line x1="45.45" y1="284.33" x2="51.25" y2="284.33" stroke="#000" stroke-width="0.9"/>
<line x1="371.30" y1="284.33" x2="365.50" y2="284.33" stroke="#000" stroke-width="0.9"/>
<line x1="45.45" y1="278.11" x2="51.25" y2="278.11" stroke="#000" stroke-width="0.9"/>
<line x1="371.30" y1="278.11" x2="365.50" y2="278.11" stroke="#000" stroke-width="0.9"/>
<line x1="45.45" y1="273.03" x2="51.25" y2="273.03" stroke="#000" stroke-width="0.9"/>
<line x1="371.30" y1="273.03" x2="365.50" y2="273.03" stroke="#000" stroke-width="0.9"/>
<line x1="45.45" y1="268.74" x2="51.25" y2="268.74" stroke="#000" stroke-width="0.9"/>
<line x1="371.30" y1="268.74" x2="365.50" y2="268.74" stroke="#000" stroke-width="0.9"/>
<line x1="45.45" y1="265.02" x2="51.25" y2="265.02" stroke="#000" stroke-width="0.9"/>
<line x1="371.30" y1="265.02" x2="365.50" y2="265.02" stroke="#000" stroke-width="0.9"/>
<line x1="45.45" y1="261.74" x2="51.25" y2="261.74" stroke="#000" stroke-width="0.9"/>
<line x1="371.30" y1="261.74" x2="365.50" y2="261.74" stroke="#000" stroke-width="0.9"/>
<line x1="45.45" y1="258.80" x2="56.45" y2="258.80" stroke="#000" stroke-width="0.9"/>
<line x1="371.30" y1="258.80" x2="360.30" y2="258.80" stroke="#000" stroke-width="0.9"/>
<line x1="45.45" y1="239.49" x2="51.25" y2="239.49" stroke="#000" stroke-width="0.9"/>
<line x1="371.30" y1="239.49" x2="365.50" y2="239.49" stroke="#000" stroke-width="0.9"/>
<line x1="45.45" y1="228.19" x2="51.25" y2="228.19" stroke="#000" stroke-width="0.9"/>
<line x1="371.30" y1="228.19" x2="365.50" y2="228.19" stroke="#000" stroke-width="0.9"/>
<line x1="45.45" y1="220.18" x2="51.25" y2="220.18" stroke="#000" stroke-width="0.9"/>
<line x1="371.30" y1="220.18" x2="365.50" y2="220.18" stroke="#000" stroke-width="0.9"/>
<line x1="45.45" y1="213.96" x2="51.25" y2="213.96" stroke="#000" stroke-width="0.9"/>
<line x1="371.30" y1="213.96" x2="365.50" y2="213.96" stroke="#000" stroke-width="0.9"/>
<line x1="45.45" y1="208.88" x2="51.25" y2="208.88" stroke="#000" stroke-width="0.9"/>
<line x1="371.30" y1="208.88" x2="365.50" y2="208.88" stroke="#000" stroke-width="0.9"/>
<line x1="45.45" y1="204.59" x2="51.25" y2="204.59" stroke="#000" stroke-width="0.9"/>
<line x1="371.30" y1="204.59" x2="365.50" y2="204.59" stroke="#000" stroke-width="0.9"/>
<line x1="45.45" y1="200.87" x2="51.25" y2="200.87" stroke="#000" stroke-width="0.9"/>
<line x1="371.30" y1="200.87" x2="365.50" y2="200.87" stroke="#000" stroke-width="0.9"/>
<line x1="45.45" y1="197.59" x2="51.25" y2="197.59" stroke="#000" stroke-width="0.9"/>
<line x1="371.30" y1="197.59" x2="365.50" y2="197.59" stroke="#000" stroke-width="0.9"/>
<line x1="45.45" y1="194.65" x2="56.45" y2="194.65" stroke="#000" stroke-width="0.9"/>
<line x1="371.30" y1="194.65" x2="360.30" y2="194.65" stroke="#000" stroke-width="0.9"/>
<line x1="45.45" y1="175.34" x2="51.25" y2="175.34" stroke="#000" stroke-width="0.9"/>
<line x1="371.30" y1="175.34" x2="365.50" y2="175.34" stroke="#000" stroke-width="0.9"/>
<line x1="45.45" y1="164.04" x2="51.25" y2="164.04" stroke="#000" stroke-width="0.9"/>
<line x1="371.30" y1="164.04" x2="365.50" y2="164.04" stroke="#000" stroke-width="0.9"/>
<line x1="45.45" y1="156.03" x2="51.25" y2="156.03" stroke="#000" stroke-width="0.9"/>
<line x1="371.30" y1="156.03" x2="365.50" y2="156.03" stroke="#000" stroke-width="0.9"/>
<line x1="45.45" y1="149.81" x2="51.25" y2="149.81" stroke="#000" stroke-width="0.9"/>
<line x1="371.30" y1="149.81" x2="365.50" y2="149.81" stroke="#000" stroke-width="0.9"/>
<line x1="45.45" y1="144.73" x2="51.25" y2="144.73" stroke="#000" stroke-width="0.9"/>
<line x1="371.30" y1="144.73" x2="365.50" y2="144.73" stroke="#000" stroke-width="0.9"/>
<line x1="45.45" y1="140.44" x2="51.25" y2="140.44" stroke="#000" stroke-width="0.9"/>
<line x1="371.30" y1="140.44" x2="365.50" y2="140.44" stroke="#000" stroke-width="0.9"/>
<line x1="45.45" y1="136.72" x2="51.25" y2="136.72" stroke="#000" stroke-width="0.9"/>
<line x1="371.30" y1="136.72" x2="365.50" y2="136.72" stroke="#000" stroke-width="0.9"/>
<line x1="45.45" y1="133.44" x2="51.25" y2="133.44" stroke="#000" stroke-width="0.9"/>
<line x1="371.30" y1="133.44" x2="365.50" y2="133.44" stroke="#000" stroke-width="0.9"/>
<line x1="45.45" y1="130.50" x2="56.45" y2="130.50" stroke="#000" stroke-width="0.9"/>
<line x1="371.30" y1="130.50" x2="360.30" y2="130.50" stroke="#000" stroke-width="0.9"/>
<line x1="45.45" y1="111.19" x2="51.25" y2="111.19" stroke="#000" stroke-width="0.9"/>
<line x1="371.30" y1="111.19" x2="365.50" y2="111.19" stroke="#000" stroke-width="0.9"/>
<line x1="45.45" y1="99.89" x2="51.25" y2="99.89" stroke="#000" stroke-width="0.9"/>
<line x1="371.30" y1="99.89" x2="365.50" y2="99.89" stroke="#000" stroke-width="0.9"/>
<line x1="45.45" y1="91.88" x2="51.25" y2="91.88" stroke="#000" stroke-width="0.9"/>
<line x1="371.30" y1="91.88" x2="365.50" y2="91.88" stroke="#000" stroke-width="0.9"/>
<line x1="45.45" y1="85.66" x2="51.25" y2="85.66" stroke="#000" stroke-width="0.9"/>
<line x1="371.30" y1="85.66" x2="365.50" y2="85.66" stroke="#000" stroke-width="0.9"/>
<line x1="45.45" y1="80.58" x2="51.25" y2="80.58" stroke="#000" stroke-width="0.9"/>
<line x1="371.30" y1="80.58" x2="365.50" y2="80.58" stroke="#000" stroke-width="0.9"/>
<line x1="45.45" y1="76.29" x2="51.25" y2="76.29" stroke="#000" stroke-width="0.9"/>
<line x1="371.30" y1="76.29" x2="365.50" y2="76.29" stroke="#000" stroke-width="0.9"/>
<line x1="45.45" y1="72.57" x2="51.25" y2="72.57" stroke="#000" stroke-width="0.9"/>
<line x1="371.30" y1="72.57" x2="365.50" y2="72.57" stroke="#000" stroke-width="0.9"/>
<line x1="45.45" y1="69.29" x2="51.25" y2="69.29" stroke="#000" stroke-width="0.9"/>
<line x1="371.30" y1="69.29" x2="365.50" y2="69.29" stroke="#000" stroke-width="0.9"/>
<line x1="45.45" y1="66.35" x2="56.45" y2="66.35" stroke="#000" stroke-width="0.9"/>
<line x1="371.30" y1="66.35" x2="360.30" y2="66.35" stroke="#000" stroke-width="0.9"/>
<line x1="45.45" y1="47.04" x2="51.25" y2="47.04" stroke="#000" stroke-width="0.9"/>
<line x1="371.30" y1="47.04" x2="365.50" y2="47.04" stroke="#000" stroke-width="0.9"/>
<line x1="45.45" y1="35.74" x2="51.25" y2="35.74" stroke="#000" stroke-width="0.9"/>
<line x1="371.30" y1="35.74" x2="365.50" y2="35.74" stroke="#000" stroke-width="0.9"/>
<line x1="45.45" y1="27.73" x2="51.25" y2="27.73" stroke="#000" stroke-width="0.9"/>
<line x1="371.30" y1="27.73" x2="365.50" y2="27.73" stroke="#000" stroke-width="0.9"/>
<line x1="45.45" y1="21.51" x2="51.25" y2="21.51" stroke="#000" stroke-width="0.9"/>
<line x1="371.30" y1="21.51" x2="365.50" y2="21.51" stroke="#000" stroke-width="0.9"/>
<line x1="45.45" y1="458.61" x2="52.75" y2="458.61" stroke="#000" stroke-width="0.9"/>
<line x1="371.30" y1="458.61" x2="364.00" y2="458.61" stroke="#000" stroke-width="0.9"/>
<line x1="45.45" y1="442.61" x2="50.75" y2="442.61" stroke="#000" stroke-width="0.9"/>
<line x1="371.30" y1="442.61" x2="366.00" y2="442.61" stroke="#000" stroke-width="0.9"/>
<line x1="45.45" y1="429.09" x2="50.75" y2="429.09" stroke="#000" stroke-width="0.9"/>
<line x1="371.30" y1="429.09" x2="366.00" y2="429.09" stroke="#000" stroke-width="0.9"/>
<line x1="45.45" y1="417.38" x2="50.75" y2="417.38" stroke="#000" stroke-width="0.9"/>
<line x1="371.30" y1="417.38" x2="366.00" y2="417.38" stroke="#000" stroke-width="0.9"/>
<line x1="45.45" y1="407.04" x2="50.75" y2="407.04" stroke="#000" stroke-width="0.9"/>
<line x1="371.30" y1="407.04" x2="366.00" y2="407.04" stroke="#000" stroke-width="0.9"/>
<line x1="45.45" y1="397.80" x2="52.75" y2="397.80" stroke="#000" stroke-width="0.9"/>
<line x1="371.30" y1="397.80" x2="364.00" y2="397.80" stroke="#000" stroke-width="0.9"/>
<line x1="45.45" y1="389.44" x2="50.75" y2="389.44" stroke="#000" stroke-width="0.9"/>
<line x1="371.30" y1="389.44" x2="366.00" y2="389.44" stroke="#000" stroke-width="0.9"/>
<line x1="45.45" y1="381.81" x2="50.75" y2="381.81" stroke="#000" stroke-width="0.9"/>
<line x1="371.30" y1="381.81" x2="366.00" y2="381.81" stroke="#000" stroke-width="0.9"/>
<line x1="45.45" y1="374.78" x2="50.75" y2="374.78" stroke="#000" stroke-width="0.9"/>
<line x1="371.30" y1="374.78" x2="366.00" y2="374.78" stroke="#000" stroke-width="0.9"/>
<line x1="45.45" y1="368.28" x2="50.75" y2="368.28" stroke="#000" stroke-width="0.9"/>
<line x1="371.30" y1="368.28" x2="366.00" y2="368.28" stroke="#000" stroke-width="0.9"/>
<line x1="45.45" y1="362.23" x2="50.75" y2="362.23" stroke="#000" stroke-width="0.9"/>
<line x1="371.30" y1="362.23" x2="366.00" y2="362.23" stroke="#000" stroke-width="0.9"/>
<line x1="45.45" y1="356.57" x2="50.75" y2="356.57" stroke="#000" stroke-width="0.9"/>
<line x1="371.30" y1="356.57" x2="366.00" y2="356.57" stroke="#000" stroke-width="0.9"/>
<line x1="45.45" y1="351.25" x2="50.75" y2="351.25" stroke="#000" stroke-width="0.9"/>
<line x1="371.30" y1="351.25" x2="366.00" y2="351.25" stroke="#000" stroke-width="0.9"/>
<line x1="45.45" y1="346.23" x2="50.75" y2="346.23" stroke="#000" stroke-width="0.9"/>
<line x1="371.30" y1="346.23" x2="366.00" y2="346.23" stroke="#000" stroke-width="0.9"/>
<line x1="45.45" y1="341.49" x2="50.75" y2="341.49" stroke="#000" stroke-width="0.9"/>
<line x1="371.30" y1="341.49" x2="366.00" y2="341.49" stroke="#000" stroke-width="0.9"/>
<line x1="45.45" y1="336.99" x2="52.75" y2="336.99" stroke="#000" stroke-width="0.9"/>
<line x1="371.30" y1="336.99" x2="364.00" y2="336.99" stroke="#000" stroke-width="0.9"/>
<line x1="45.45" y1="332.71" x2="50.75" y2="332.71" stroke="#000" stroke-width="0.9"/>
<line x1="371.30" y1="332.71" x2="366.00" y2="332.71" stroke="#000" stroke-width="0.9"/>
<line x1="45.45" y1="328.63" x2="50.75" y2="328.63" stroke="#000" stroke-width="0.9"/>
<line x1="371.30" y1="328.63" x2="366.00" y2="328.63" stroke="#000" stroke-width="0.9"/>
<line x1="45.45" y1="324.73" x2="50.75" y2="324.73" stroke="#000" stroke-width="0.9"/>
<line x1="371.30" y1="324.73" x2="366.00" y2="324.73" stroke="#000" stroke-width="0.9"/>
<line x1="45.45" y1="321.00" x2="50.75" y2="321.00" stroke="#000" stroke-width="0.9"/>
<line x1="371.30" y1="321.00" x2="366.00" y2="321.00" stroke="#000" stroke-width="0.9"/>
<line x1="45.45" y1="317.42" x2="50.75" y2="317.42" stroke="#000" stroke-width="0.9"/>
<line x1="371.30" y1="317.42" x2="366.00" y2="317.42" stroke="#000" stroke-width="0.9"/>
<rect x="45.45" y="17.4" width="325.85" height="299.90" fill="none" stroke="#000" stroke-width="1.3"/>
<rect x="45.45" y="317.3" width="325.85" height="160.55" fill="none" stroke="#000" stroke-width="1.3"/>
<line x1="44.80" y1="477.85" x2="371.95" y2="477.85" stroke="#000" stroke-width="1.7"/>
<line x1="63.8" y1="62.10" x2="88.3" y2="62.10" stroke="#c8305a" stroke-width="1.0" stroke-dasharray="3,2"/>
<circle cx="76.30" cy="62.10" r="2.50" fill="none" stroke="#c8305a" stroke-width="1.1"/>
<line x1="63.8" y1="75.05" x2="88.3" y2="75.05" stroke="#b48a4c" stroke-width="1.0" stroke-dasharray="1,1.5"/>
<rect x="73.70" y="72.45" width="5.20" height="5.20" fill="none" stroke="#b48a4c" stroke-width="1.05"/>
<line x1="63.8" y1="88.00" x2="88.3" y2="88.00" stroke="#a81830" stroke-width="1.0"/>
<path d="M76.30,85.00 L79.40,90.50 L73.20,90.50 Z" fill="none" stroke="#a81830" stroke-width="1.1"/>
<line x1="63.8" y1="100.95" x2="88.3" y2="100.95" stroke="#ff7a2a" stroke-width="1.0" stroke-dasharray="4,2,1,2"/>
<rect x="73.90" y="98.55" width="4.80" height="4.80" fill="#ff7a2a"/>
<line x1="63.8" y1="113.90" x2="88.3" y2="113.90" stroke="#0000ff" stroke-width="1.0"/>
<path d="M76.30,110.90 L79.30,116.50 L73.30,116.50 Z" fill="#0000ff"/>
<text x="51.10" y="14.50" font-size="12.2" text-anchor="start" fill="#000" >7000 GeV pp</text>
<text x="367.50" y="14.30" font-size="12.2" text-anchor="end" fill="#000" >Top (parton level)</text>
<text x="162.30" y="43.40" font-size="9.3" text-anchor="start" fill="#000" textLength="94.2" lengthAdjust="spacingAndGlyphs" >&#916;&#981; (ttbar) (Mtt &gt; 450)</text>
<text x="174.00" y="302.00" font-size="8.2" text-anchor="start" fill="#a0a0a0" textLength="67.6" lengthAdjust="spacingAndGlyphs" >(MC_FBA_TTBAR)</text>
<text x="94.00" y="64.90" font-size="9.1" text-anchor="start" fill="#000" textLength="71.3" lengthAdjust="spacing">Pythia 6.428 345</text>
<text x="94.00" y="77.85" font-size="9.1" text-anchor="start" fill="#000" textLength="71.3" lengthAdjust="spacing">Pythia 6.428 346</text>
<text x="94.00" y="90.80" font-size="9.1" text-anchor="start" fill="#000" textLength="71.3" lengthAdjust="spacing">Pythia 6.428 370</text>
<text x="94.00" y="103.75" font-size="9.1" text-anchor="start" fill="#000" textLength="83.97" lengthAdjust="spacing">Pythia 6.428 default</text>
<text x="94.00" y="116.70" font-size="9.1" text-anchor="start" fill="#000" textLength="83.97" lengthAdjust="spacing">Pythia 8.315 default</text>
<text x="35.00" y="71.90" font-size="11" text-anchor="end" fill="#000" >10</text>
<text x="34.90" y="68.40" font-size="7.7" text-anchor="start" fill="#000" >3</text>
<text x="35.00" y="135.90" font-size="11" text-anchor="end" fill="#000" >10</text>
<text x="34.90" y="132.10" font-size="7.7" text-anchor="start" fill="#000" >2</text>
<text x="40.70" y="199.10" font-size="11" text-anchor="end" fill="#000" >10</text>
<text x="40.90" y="262.90" font-size="11" text-anchor="end" fill="#000" >1</text>
<text x="38.40" y="341.00" font-size="11" text-anchor="end" fill="#000" >2</text>
<text x="39.40" y="401.60" font-size="11" text-anchor="end" fill="#000" >1</text>
<text x="38.30" y="462.10" font-size="11" text-anchor="end" fill="#000" >0.5</text>
<text x="373.70" y="340.80" font-size="11" text-anchor="start" fill="#000" >2</text>
<text x="373.30" y="402.80" font-size="11" text-anchor="start" fill="#000" >1</text>
<text x="373.50" y="462.10" font-size="11" text-anchor="start" fill="#000" >0.5</text>
<text x="51.50" y="488.80" font-size="11" text-anchor="middle" fill="#000" >0</text>
<text x="151.25" y="488.80" font-size="11" text-anchor="middle" fill="#000" >1</text>
<text x="251.00" y="488.80" font-size="11" text-anchor="middle" fill="#000" >2</text>
<text x="350.75" y="488.80" font-size="11" text-anchor="middle" fill="#000" >3</text>
<text transform="translate(380.3,126.8) rotate(-90)" font-size="9.0" fill="#6a6a6a" textLength="108.3" lengthAdjust="spacing">Rivet 4.1.0, &#8805; 100k events</text>
<text transform="translate(381.0,313.0) rotate(-90)" font-size="9.0" fill="#6a6a6a" textLength="147" lengthAdjust="spacing">mcplots.cern.ch [arXiv:2401.10621]</text>
<text transform="translate(16.5,446.9) rotate(-90)" font-size="9.1" fill="#000" textLength="100.8" lengthAdjust="spacingAndGlyphs">Ratio to Pythia 6.428 345</text>
</svg>

</body></html>
